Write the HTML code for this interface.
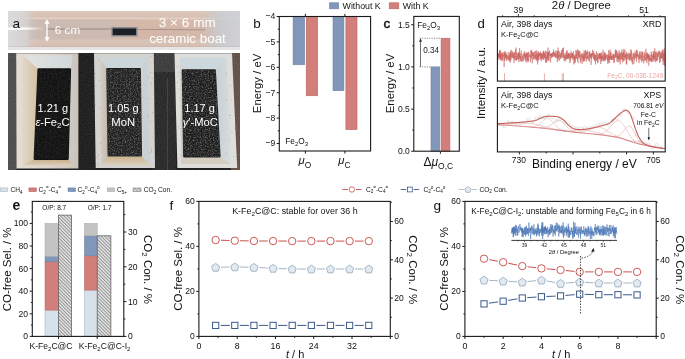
<!DOCTYPE html><html><head><meta charset="utf-8"><style>html,body{margin:0;padding:0;background:#fff;}svg{display:block;will-change:transform;}text{font-family:"Liberation Sans",sans-serif;}</style></head><body>
<svg width="685" height="359" viewBox="0 0 685 359">
<defs>
<filter id="grain" x="0" y="0" width="100%" height="100%"><feTurbulence type="fractalNoise" baseFrequency="0.9" numOctaves="2" seed="3" result="n"/><feColorMatrix type="matrix" values="0 0 0 0 1  0 0 0 0 1  0 0 0 0 1  0 0 0 0.35 -0.05"/><feComposite in2="SourceGraphic" operator="in"/></filter>
<filter id="grain2" x="0" y="0" width="100%" height="100%"><feTurbulence type="fractalNoise" baseFrequency="0.75" numOctaves="2" seed="5"/><feColorMatrix type="matrix" values="0 0 0 0 0.42  0 0 0 0 0.42  0 0 0 0 0.42  0 0 0 2.0 -0.85"/><feComposite in2="SourceGraphic" operator="in"/></filter>
<filter id="blur1"><feGaussianBlur stdDeviation="1.2"/></filter>
<filter id="blur05"><feGaussianBlur stdDeviation="0.5"/></filter>
<pattern id="hatch" patternUnits="userSpaceOnUse" width="2.4" height="2.4" patternTransform="rotate(-45)"><rect width="2.4" height="2.4" fill="#ececec"/><line x1="0.6" y1="0" x2="0.6" y2="2.4" stroke="#6a6a6a" stroke-width="0.75"/></pattern>
<linearGradient id="tubeg" x1="0" y1="0" x2="0" y2="1">
<stop offset="0" stop-color="#dcc6ba"/><stop offset="0.15" stop-color="#d8c0b2"/><stop offset="0.19" stop-color="#e2d0c6"/><stop offset="0.24" stop-color="#d4baab"/>
<stop offset="0.7" stop-color="#d1b6a8"/><stop offset="0.74" stop-color="#dac4b8"/><stop offset="0.9" stop-color="#d5bfb2"/><stop offset="1" stop-color="#d6c2b8"/></linearGradient>
<linearGradient id="tuber" x1="0" y1="0" x2="1" y2="0"><stop offset="0" stop-color="#c8ccd2" stop-opacity="0"/><stop offset="0.5" stop-color="#c9ced4" stop-opacity="0.85"/><stop offset="1" stop-color="#cfd3d8" stop-opacity="0.9"/></linearGradient>
<linearGradient id="tubel" x1="0" y1="0" x2="1" y2="0"><stop offset="0" stop-color="#dcdcde" stop-opacity="0.95"/><stop offset="0.62" stop-color="#d6d4d6" stop-opacity="0.85"/><stop offset="0.75" stop-color="#d6d4d6" stop-opacity="0.3"/><stop offset="1" stop-color="#d6d4d6" stop-opacity="0"/></linearGradient>
<linearGradient id="tubemid" x1="0" y1="0" x2="1" y2="0"><stop offset="0" stop-color="#c9bdb7" stop-opacity="0.0"/><stop offset="0.08" stop-color="#c9bcb5" stop-opacity="0.85"/><stop offset="0.44" stop-color="#ccbbb2" stop-opacity="0.8"/><stop offset="0.56" stop-color="#d6b6a6" stop-opacity="0.5"/><stop offset="0.85" stop-color="#d6b8a8" stop-opacity="0.3"/><stop offset="1" stop-color="#d6b8a8" stop-opacity="0"/></linearGradient>
<linearGradient id="glare" x1="0" y1="0" x2="1" y2="0"><stop offset="0" stop-color="#fff" stop-opacity="1"/><stop offset="0.45" stop-color="#fff" stop-opacity="0.9"/><stop offset="0.75" stop-color="#fff" stop-opacity="0.35"/><stop offset="1" stop-color="#fff" stop-opacity="0"/></linearGradient>
<linearGradient id="b1o" x1="0" y1="0" x2="1" y2="0"><stop offset="0" stop-color="#e3ddd4"/><stop offset="0.5" stop-color="#dcd4c8"/><stop offset="1" stop-color="#cdc3bb"/></linearGradient>
<linearGradient id="b1l" x1="0" y1="0" x2="1" y2="0"><stop offset="0" stop-color="#e2d9ca"/><stop offset="1" stop-color="#d4c1a3"/></linearGradient>
<linearGradient id="b1b" x1="0" y1="0" x2="0" y2="1"><stop offset="0" stop-color="#c9b08c"/><stop offset="1" stop-color="#ddd0bc"/></linearGradient>
<linearGradient id="b1f" x1="0" y1="0" x2="1" y2="0"><stop offset="0" stop-color="#e2e3e1"/><stop offset="1" stop-color="#d2d8da"/></linearGradient>
<linearGradient id="b2l" x1="0" y1="0" x2="1" y2="0"><stop offset="0" stop-color="#d2cec8"/><stop offset="1" stop-color="#c8bcaa"/></linearGradient>
<linearGradient id="b2b" x1="0" y1="0" x2="0" y2="1"><stop offset="0" stop-color="#ccb48e"/><stop offset="1" stop-color="#dcd0bc"/></linearGradient>
<linearGradient id="b3r" x1="0" y1="0" x2="1" y2="0"><stop offset="0" stop-color="#c6d0d5"/><stop offset="1" stop-color="#d8dcdd"/></linearGradient>
</defs>
<rect x="8" y="11" width="232" height="39" fill="url(#tubeg)" />
<rect x="8" y="19.5" width="232" height="20" fill="url(#tubemid)" />
<rect x="8" y="11" width="30" height="39" fill="url(#tubel)" />
<rect x="200" y="11" width="40" height="39" fill="url(#tuber)" />
<rect x="8" y="27.4" width="38" height="2.4" fill="url(#glare)" filter="url(#blur05)"/>
<line x1="45" y1="29" x2="111" y2="29" stroke="#6a6466" stroke-width="0.8" opacity="0.75"/>
<line x1="137.5" y1="29.4" x2="205" y2="29.8" stroke="#6a6466" stroke-width="0.8" opacity="0.55"/>
<line x1="8" y1="46.6" x2="240" y2="46.6" stroke="#b8aaa4" stroke-width="0.6" opacity="0.6"/>
<rect x="8" y="47" width="232" height="3" fill="#e6e3e5" />
<rect x="111.3" y="27" width="26.2" height="9.5" fill="#858b90" />
<rect x="112.7" y="28.5" width="23.4" height="6.6" fill="#1b1e22" />
<line x1="47" y1="22.5" x2="47" y2="38.5" stroke="#ffffff" stroke-width="1.4" />
<polygon points="47.00,19.20 44.40,23.80 49.60,23.80" fill="#fff" />
<polygon points="47.00,41.80 44.40,37.20 49.60,37.20" fill="#fff" />
<text x="54.8" y="33.6" font-size="11.7" text-anchor="start" fill="#ffffff" font-weight="normal"  >6 cm</text>
<text x="187.3" y="27" font-size="13.6" text-anchor="middle" fill="#ffffff" font-weight="normal"  >3 × 6 mm</text>
<text x="187.5" y="43" font-size="13.4" text-anchor="middle" fill="#ffffff" font-weight="normal"  >ceramic boat</text>
<text x="12.4" y="27.5" font-size="13.6" text-anchor="start" fill="#111" font-weight="normal"  >a</text>
<rect x="8" y="53" width="232" height="117" fill="#161616" />
<rect x="8" y="53" width="8.5" height="117" fill="#474747" />
<rect x="153" y="53" width="23" height="117" fill="#222222" />
<rect x="153" y="53" width="23" height="19" fill="#363636" />
<rect x="231" y="53" width="9" height="117" fill="#5c4b42" />
<rect x="8" y="53" width="232" height="117" fill="#000" filter="url(#grain)" opacity="0.45"/>
<line x1="167.5" y1="78" x2="167.5" y2="170" stroke="#4a4a4a" stroke-width="0.8" />
<polygon points="16.20,53.30 78.40,53.30 78.40,168.50 16.50,168.50" fill="url(#b1o)" />
<polygon points="22.40,55.30 37.40,68.30 33.60,160.00 22.00,165.50" fill="url(#b1l)" />
<polygon points="71.10,68.30 72.60,55.30 73.60,55.30 73.80,166.00 68.80,160.00" fill="#cbc9c5" />
<polygon points="33.60,160.00 68.80,160.00 73.80,165.60 22.00,165.60" fill="url(#b1b)" />
<polygon points="23.20,55.20 72.60,55.20 71.10,68.30 37.40,68.30" fill="url(#b1f)" />
<polygon points="94.00,53.30 153.80,53.30 155.00,168.00 95.70,168.00" fill="#d5d3cf" />
<polygon points="99.60,57.50 106.20,68.00 107.50,156.60 101.40,164.90" fill="url(#b2l)" />
<polygon points="140.90,68.00 148.10,57.50 149.80,164.90 142.00,156.60" fill="#c9d1d5" />
<polygon points="107.50,156.60 142.00,156.60 149.80,164.90 101.40,164.90" fill="url(#b2b)" />
<polygon points="99.60,57.50 148.10,57.50 140.90,68.00 106.20,68.00" fill="#ccd6da" />
<polygon points="174.50,53.30 232.00,53.30 237.20,168.00 177.40,168.00" fill="#dfdedb" />
<polygon points="180.10,57.50 181.70,69.20 183.10,157.50 181.00,163.90" fill="#cdccc8" />
<polygon points="215.90,69.20 226.80,57.50 231.00,163.90 220.60,157.50" fill="url(#b3r)" />
<polygon points="183.10,157.50 220.60,157.50 231.00,163.90 181.00,163.90" fill="#d5cdc0" />
<polygon points="180.10,57.50 226.80,57.50 215.90,69.20 181.70,69.20" fill="#cdd8de" />
<circle cx="98.4" cy="154.7" r="0.45" fill="#555" opacity="0.6"/>
<circle cx="99.4" cy="80.8" r="0.45" fill="#555" opacity="0.6"/>
<circle cx="96.1" cy="152.1" r="0.45" fill="#555" opacity="0.6"/>
<circle cx="94.0" cy="146.3" r="0.45" fill="#555" opacity="0.6"/>
<circle cx="99.6" cy="107.5" r="0.45" fill="#555" opacity="0.6"/>
<circle cx="96.1" cy="86.6" r="0.45" fill="#555" opacity="0.6"/>
<circle cx="95.8" cy="105.0" r="0.45" fill="#555" opacity="0.6"/>
<circle cx="97.5" cy="116.9" r="0.45" fill="#555" opacity="0.6"/>
<circle cx="101.0" cy="143.2" r="0.45" fill="#555" opacity="0.6"/>
<circle cx="98.4" cy="164.8" r="0.45" fill="#555" opacity="0.6"/>
<circle cx="95.5" cy="73.6" r="0.45" fill="#555" opacity="0.6"/>
<circle cx="98.3" cy="60.8" r="0.45" fill="#555" opacity="0.6"/>
<circle cx="94.2" cy="112.6" r="0.45" fill="#555" opacity="0.6"/>
<circle cx="97.3" cy="156.9" r="0.45" fill="#555" opacity="0.6"/>
<circle cx="152.4" cy="112.6" r="0.45" fill="#555" opacity="0.6"/>
<circle cx="151.5" cy="83.2" r="0.45" fill="#555" opacity="0.6"/>
<circle cx="148.1" cy="77.2" r="0.45" fill="#555" opacity="0.6"/>
<circle cx="152.8" cy="78.1" r="0.45" fill="#555" opacity="0.6"/>
<circle cx="150.6" cy="56.4" r="0.45" fill="#555" opacity="0.6"/>
<circle cx="153.8" cy="73.0" r="0.45" fill="#555" opacity="0.6"/>
<circle cx="149.9" cy="152.8" r="0.45" fill="#555" opacity="0.6"/>
<circle cx="151.6" cy="149.2" r="0.45" fill="#555" opacity="0.6"/>
<circle cx="152.5" cy="137.6" r="0.45" fill="#555" opacity="0.6"/>
<circle cx="148.6" cy="115.5" r="0.45" fill="#555" opacity="0.6"/>
<circle cx="151.6" cy="151.8" r="0.45" fill="#555" opacity="0.6"/>
<circle cx="150.5" cy="121.8" r="0.45" fill="#555" opacity="0.6"/>
<circle cx="148.4" cy="98.6" r="0.45" fill="#555" opacity="0.6"/>
<circle cx="150.3" cy="72.5" r="0.45" fill="#555" opacity="0.6"/>
<circle cx="179.8" cy="97.7" r="0.45" fill="#555" opacity="0.6"/>
<circle cx="180.9" cy="120.9" r="0.45" fill="#555" opacity="0.6"/>
<circle cx="178.4" cy="126.2" r="0.45" fill="#555" opacity="0.6"/>
<circle cx="178.9" cy="72.6" r="0.45" fill="#555" opacity="0.6"/>
<circle cx="177.4" cy="82.4" r="0.45" fill="#555" opacity="0.6"/>
<circle cx="177.1" cy="66.6" r="0.45" fill="#555" opacity="0.6"/>
<circle cx="180.8" cy="79.7" r="0.45" fill="#555" opacity="0.6"/>
<circle cx="178.9" cy="89.0" r="0.45" fill="#555" opacity="0.6"/>
<circle cx="180.2" cy="128.8" r="0.45" fill="#555" opacity="0.6"/>
<circle cx="175.4" cy="149.0" r="0.45" fill="#555" opacity="0.6"/>
<circle cx="180.6" cy="155.4" r="0.45" fill="#555" opacity="0.6"/>
<circle cx="178.2" cy="72.0" r="0.45" fill="#555" opacity="0.6"/>
<circle cx="175.8" cy="158.1" r="0.45" fill="#555" opacity="0.6"/>
<circle cx="178.1" cy="75.9" r="0.45" fill="#555" opacity="0.6"/>
<circle cx="234.8" cy="128.0" r="0.45" fill="#555" opacity="0.6"/>
<circle cx="231.7" cy="99.9" r="0.45" fill="#555" opacity="0.6"/>
<circle cx="230.1" cy="85.4" r="0.45" fill="#555" opacity="0.6"/>
<circle cx="226.4" cy="152.9" r="0.45" fill="#555" opacity="0.6"/>
<circle cx="230.7" cy="118.0" r="0.45" fill="#555" opacity="0.6"/>
<circle cx="229.2" cy="139.6" r="0.45" fill="#555" opacity="0.6"/>
<circle cx="226.3" cy="99.5" r="0.45" fill="#555" opacity="0.6"/>
<circle cx="226.3" cy="73.0" r="0.45" fill="#555" opacity="0.6"/>
<circle cx="235.7" cy="129.7" r="0.45" fill="#555" opacity="0.6"/>
<circle cx="230.3" cy="115.5" r="0.45" fill="#555" opacity="0.6"/>
<circle cx="234.7" cy="96.5" r="0.45" fill="#555" opacity="0.6"/>
<circle cx="231.9" cy="132.5" r="0.45" fill="#555" opacity="0.6"/>
<circle cx="229.6" cy="115.0" r="0.45" fill="#555" opacity="0.6"/>
<circle cx="233.7" cy="156.4" r="0.45" fill="#555" opacity="0.6"/>
<path d="M38.6,69.5 L69.9,69.5 L67.6,158.8 L34.8,158.8 Z" fill="#121212" stroke="#121212" stroke-width="2.4" stroke-linejoin="round"/>
<path d="M38.6,69.5 L69.9,69.5 L67.6,158.8 L34.8,158.8 Z" fill="#000" stroke="#000" stroke-width="2.4" stroke-linejoin="round" filter="url(#grain2)" opacity="0.22"/>
<path d="M107.4,69.2 L139.7,69.2 L140.8,155.4 L108.7,155.4 Z" fill="#202020" stroke="#202020" stroke-width="2.4" stroke-linejoin="round"/>
<path d="M107.4,69.2 L139.7,69.2 L140.8,155.4 L108.7,155.4 Z" fill="#000" stroke="#000" stroke-width="2.4" stroke-linejoin="round" filter="url(#grain2)" opacity="0.65"/>
<path d="M182.9,70.4 L214.7,70.4 L219.4,156.3 L184.3,156.3 Z" fill="#1d1d1d" stroke="#1d1d1d" stroke-width="2.4" stroke-linejoin="round"/>
<path d="M182.9,70.4 L214.7,70.4 L219.4,156.3 L184.3,156.3 Z" fill="#000" stroke="#000" stroke-width="2.4" stroke-linejoin="round" filter="url(#grain2)" opacity="0.65"/>
<rect x="8" y="50" width="232" height="3" fill="#ffffff" />
<text x="52.8" y="111.7" font-size="11" text-anchor="middle" fill="#ffffff" font-weight="normal"  >1.21 g</text>
<text x="52.5" y="125.7" font-size="11.2" text-anchor="middle" fill="#ffffff" font-weight="normal"  ><tspan font-style="italic">ε</tspan>-Fe<tspan font-size="8" dy="2.5">2</tspan><tspan dy="-2.5">C</tspan></text>
<text x="123.3" y="111.7" font-size="11" text-anchor="middle" fill="#ffffff" font-weight="normal"  >1.05 g</text>
<text x="123.3" y="125.6" font-size="11.3" text-anchor="middle" fill="#ffffff" font-weight="normal"  >MoN</text>
<text x="199.6" y="111.7" font-size="11" text-anchor="middle" fill="#ffffff" font-weight="normal"  >1.17 g</text>
<text x="200.3" y="125.7" font-size="11.2" text-anchor="middle" fill="#ffffff" font-weight="normal"  ><tspan font-style="italic">γ</tspan>′-MoC</text>
<rect x="329.5" y="2.8" width="9.2" height="6" fill="#8197b9" stroke="#6d82a3" stroke-width="0.6"/>
<text x="342.6" y="8.8" font-size="8.8" text-anchor="start" fill="#111" font-weight="normal"  >Without K</text>
<rect x="389.2" y="2.8" width="9.6" height="6" fill="#d27f7b" stroke="#b8625f" stroke-width="0.6"/>
<text x="402.8" y="8.8" font-size="8.8" text-anchor="start" fill="#111" font-weight="normal"  >With K</text>
<rect x="293.1" y="16.5" width="11.5" height="48.260000000000005" fill="#8197b9" stroke="#6d82a3" stroke-width="0.6"/>
<rect x="306.2" y="16.5" width="11.400000000000034" height="79.248" fill="#d27f7b" stroke="#b8625f" stroke-width="0.6"/>
<rect x="333" y="16.5" width="10.899999999999977" height="74.16799999999999" fill="#8197b9" stroke="#6d82a3" stroke-width="0.6"/>
<rect x="345.9" y="16.5" width="11.100000000000023" height="113.02999999999997" fill="#d27f7b" stroke="#b8625f" stroke-width="0.6"/>
<rect x="279.3" y="16.5" width="91.30000000000001" height="134.5" fill="none" stroke="#1a1a1a" stroke-width="1.1"/>
<line x1="276.7" y1="16.5" x2="279.3" y2="16.5" stroke="#1a1a1a" stroke-width="1" />
<text transform="translate(275.20,19.45) scale(0.91,1)" x="0" y="0" font-size="9.4" text-anchor="end" fill="#111" font-weight="normal"  >−4</text>
<line x1="276.7" y1="41.9" x2="279.3" y2="41.9" stroke="#1a1a1a" stroke-width="1" />
<text transform="translate(275.20,44.85) scale(0.91,1)" x="0" y="0" font-size="9.4" text-anchor="end" fill="#111" font-weight="normal"  >−5</text>
<line x1="276.7" y1="67.3" x2="279.3" y2="67.3" stroke="#1a1a1a" stroke-width="1" />
<text transform="translate(275.20,70.25) scale(0.91,1)" x="0" y="0" font-size="9.4" text-anchor="end" fill="#111" font-weight="normal"  >−6</text>
<line x1="276.7" y1="92.69999999999999" x2="279.3" y2="92.69999999999999" stroke="#1a1a1a" stroke-width="1" />
<text transform="translate(275.20,95.65) scale(0.91,1)" x="0" y="0" font-size="9.4" text-anchor="end" fill="#111" font-weight="normal"  >−7</text>
<line x1="276.7" y1="118.1" x2="279.3" y2="118.1" stroke="#1a1a1a" stroke-width="1" />
<text transform="translate(275.20,121.05) scale(0.91,1)" x="0" y="0" font-size="9.4" text-anchor="end" fill="#111" font-weight="normal"  >−8</text>
<line x1="276.7" y1="143.5" x2="279.3" y2="143.5" stroke="#1a1a1a" stroke-width="1" />
<text transform="translate(275.20,146.45) scale(0.91,1)" x="0" y="0" font-size="9.4" text-anchor="end" fill="#111" font-weight="normal"  >−9</text>
<line x1="277.8" y1="29.2" x2="279.3" y2="29.2" stroke="#1a1a1a" stroke-width="1" />
<line x1="277.8" y1="54.599999999999994" x2="279.3" y2="54.599999999999994" stroke="#1a1a1a" stroke-width="1" />
<line x1="277.8" y1="80.0" x2="279.3" y2="80.0" stroke="#1a1a1a" stroke-width="1" />
<line x1="277.8" y1="105.39999999999999" x2="279.3" y2="105.39999999999999" stroke="#1a1a1a" stroke-width="1" />
<line x1="277.8" y1="130.8" x2="279.3" y2="130.8" stroke="#1a1a1a" stroke-width="1" />
<line x1="305.4" y1="151" x2="305.4" y2="153.6" stroke="#1a1a1a" stroke-width="1" />
<line x1="305.4" y1="16.5" x2="305.4" y2="13.9" stroke="#1a1a1a" stroke-width="1" />
<line x1="344.9" y1="151" x2="344.9" y2="153.6" stroke="#1a1a1a" stroke-width="1" />
<line x1="344.9" y1="16.5" x2="344.9" y2="13.9" stroke="#1a1a1a" stroke-width="1" />
<text transform="translate(260.9,83.4) rotate(-90)" font-size="11.4" text-anchor="middle" fill="#111">Energy / eV</text>
<text x="253.2" y="27.8" font-size="13.4" text-anchor="start" fill="#111" font-weight="normal"  >b</text>
<text x="285.3" y="144.3" font-size="8.3" text-anchor="start" fill="#111" font-weight="normal"  >Fe<tspan font-size="6" dy="2">2</tspan><tspan dy="-2">O</tspan><tspan font-size="6" dy="2">3</tspan></text>
<text x="298.6" y="164.3" font-size="11.3" text-anchor="start" fill="#111" font-weight="normal"  ><tspan font-style="italic">μ</tspan><tspan font-size="8.3" dy="3.6">O</tspan></text>
<text x="338.2" y="164.3" font-size="11.3" text-anchor="start" fill="#111" font-weight="normal"  ><tspan font-style="italic">μ</tspan><tspan font-size="8.3" dy="3.6">C</tspan></text>
<rect x="431" y="66.89999999999999" width="8.8" height="84.3" fill="#8197b9" stroke="#6d82a3" stroke-width="0.6"/>
<rect x="441.1" y="38.237999999999985" width="8.8" height="112.962" fill="#d27f7b" stroke="#b8625f" stroke-width="0.6"/>
<rect x="413.8" y="16.4" width="45.5" height="134.79999999999998" fill="none" stroke="#1a1a1a" stroke-width="1.1"/>
<line x1="411.2" y1="151.2" x2="413.8" y2="151.2" stroke="#1a1a1a" stroke-width="1" />
<text transform="translate(409.80,154.15) scale(0.91,1)" x="0" y="0" font-size="9.4" text-anchor="end" fill="#111" font-weight="normal"  >0.0</text>
<line x1="411.2" y1="109.04999999999998" x2="413.8" y2="109.04999999999998" stroke="#1a1a1a" stroke-width="1" />
<text transform="translate(409.80,112.00) scale(0.91,1)" x="0" y="0" font-size="9.4" text-anchor="end" fill="#111" font-weight="normal"  >0.5</text>
<line x1="411.2" y1="66.89999999999999" x2="413.8" y2="66.89999999999999" stroke="#1a1a1a" stroke-width="1" />
<text transform="translate(409.80,69.85) scale(0.91,1)" x="0" y="0" font-size="9.4" text-anchor="end" fill="#111" font-weight="normal"  >1.0</text>
<line x1="411.2" y1="24.75" x2="413.8" y2="24.75" stroke="#1a1a1a" stroke-width="1" />
<text transform="translate(409.80,27.70) scale(0.91,1)" x="0" y="0" font-size="9.4" text-anchor="end" fill="#111" font-weight="normal"  >1.5</text>
<line x1="412.3" y1="130.125" x2="413.8" y2="130.125" stroke="#1a1a1a" stroke-width="1" />
<line x1="412.3" y1="87.975" x2="413.8" y2="87.975" stroke="#1a1a1a" stroke-width="1" />
<line x1="412.3" y1="45.82499999999999" x2="413.8" y2="45.82499999999999" stroke="#1a1a1a" stroke-width="1" />
<line x1="440.4" y1="151.2" x2="440.4" y2="153.79999999999998" stroke="#1a1a1a" stroke-width="1" />
<line x1="419.5" y1="66.89999999999999" x2="431" y2="66.89999999999999" stroke="#555" stroke-width="0.7" stroke-dasharray="1.2,1.2"/>
<line x1="419.5" y1="38.237999999999985" x2="441" y2="38.237999999999985" stroke="#555" stroke-width="0.7" stroke-dasharray="1.2,1.2"/>
<line x1="420.5" y1="66.89999999999999" x2="420.5" y2="41.237999999999985" stroke="#333" stroke-width="0.7" />
<polygon points="420.50,38.24 419.00,41.84 422.00,41.84" fill="#333" />
<text x="423.2" y="52.8" font-size="8.2" text-anchor="start" fill="#222" font-weight="normal"  >0.34</text>
<text x="417.3" y="28.3" font-size="8.3" text-anchor="start" fill="#111" font-weight="normal"  >Fe<tspan font-size="6" dy="2">2</tspan><tspan dy="-2">O</tspan><tspan font-size="6" dy="2">3</tspan></text>
<text transform="translate(394.4,83.5) rotate(-90)" font-size="11.4" text-anchor="middle" fill="#111">Energy / eV</text>
<text x="383.6" y="27.7" font-size="13.4" text-anchor="start" fill="#111" font-weight="normal"  stroke="#111" stroke-width="0.45">c</text>
<text x="423.5" y="165.7" font-size="12" text-anchor="start" fill="#111" font-weight="normal"  >Δ<tspan font-style="italic">μ</tspan><tspan font-size="8.5" dy="3">O,C</tspan></text>
<polyline points="498.00,58.26 498.13,53.29 498.26,56.35 498.39,56.71 498.52,53.23 498.65,57.43 498.78,53.85 498.91,59.71 499.04,57.22 499.17,56.89 499.30,54.71 499.43,56.22 499.56,50.21 499.69,52.98 499.82,57.76 499.95,49.79 500.08,59.31 500.21,51.01 500.34,59.02 500.47,53.89 500.60,59.09 500.73,57.02 500.86,51.68 500.99,60.60 501.12,61.21 501.25,56.39 501.38,55.72 501.51,56.09 501.64,53.48 501.77,60.12 501.90,54.86 502.03,56.44 502.16,54.06 502.29,54.60 502.42,52.51 502.55,60.62 502.68,56.11 502.81,59.69 502.94,56.64 503.07,54.38 503.20,55.55 503.33,54.81 503.46,56.63 503.59,55.40 503.72,55.64 503.85,52.19 503.98,54.02 504.11,67.00 504.24,54.45 504.37,53.23 504.50,57.68 504.63,61.10 504.76,51.95 504.89,55.93 505.02,54.58 505.15,50.96 505.28,58.95 505.41,56.52 505.54,56.83 505.67,54.19 505.80,58.06 505.93,54.87 506.06,56.14 506.19,53.05 506.32,52.71 506.45,60.87 506.58,54.98 506.71,57.53 506.84,56.49 506.97,55.19 507.10,54.97 507.23,58.62 507.36,55.63 507.49,56.12 507.62,56.67 507.75,60.36 507.88,58.78 508.01,57.82 508.14,54.80 508.27,52.18 508.40,59.64 508.53,59.69 508.66,56.15 508.79,58.33 508.92,59.10 509.05,59.26 509.18,59.55 509.31,55.14 509.44,61.45 509.57,52.61 509.70,59.36 509.83,58.18 509.96,59.39 510.09,62.61 510.22,61.35 510.35,52.93 510.48,51.19 510.61,61.26 510.74,53.35 510.87,56.56 511.00,59.29 511.13,51.34 511.26,49.85 511.39,57.43 511.52,56.74 511.65,55.81 511.78,56.72 511.91,53.84 512.04,51.75 512.17,56.06 512.30,53.49 512.43,51.34 512.56,58.21 512.69,56.40 512.82,57.90 512.95,53.43 513.08,54.49 513.21,53.40 513.34,53.76 513.47,57.22 513.60,54.09 513.73,57.73 513.86,57.68 513.99,63.07 514.12,52.13 514.25,59.43 514.38,56.30 514.51,56.54 514.64,51.95 514.77,55.11 514.90,58.96 515.03,56.32 515.16,56.84 515.29,55.65 515.42,60.28 515.55,56.51 515.68,49.54 515.81,54.36 515.94,50.28 516.07,47.50 516.20,54.88 516.33,60.84 516.46,56.72 516.59,52.82 516.72,53.56 516.85,60.18 516.98,57.07 517.11,56.72 517.24,56.39 517.37,56.68 517.50,59.13 517.63,58.32 517.76,57.24 517.89,53.21 518.02,58.18 518.15,54.35 518.28,60.04 518.41,52.47 518.54,56.10 518.67,56.51 518.80,52.29 518.93,62.04 519.06,62.10 519.19,55.04 519.32,58.99 519.45,57.72 519.58,48.14 519.71,57.31 519.84,56.30 519.97,57.43 520.10,53.05 520.23,55.63 520.36,55.91 520.49,60.28 520.62,57.54 520.75,56.45 520.88,61.36 521.01,54.68 521.14,55.21 521.27,50.63 521.40,61.46 521.53,59.52 521.66,59.37 521.79,58.57 521.92,56.77 522.05,57.10 522.18,55.60 522.31,55.75 522.44,56.57 522.57,61.23 522.70,58.16 522.83,56.19 522.96,54.52 523.09,54.33 523.22,61.48 523.35,57.97 523.48,56.56 523.61,55.23 523.74,52.78 523.87,56.11 524.00,59.11 524.13,55.05 524.26,55.57 524.39,55.59 524.52,56.64 524.65,51.18 524.78,55.52 524.91,53.53 525.04,59.09 525.17,53.79 525.30,58.09 525.43,61.12 525.56,55.23 525.69,54.30 525.82,56.83 525.95,56.21 526.08,53.03 526.21,57.68 526.34,62.64 526.47,55.36 526.60,55.53 526.73,52.83 526.86,57.19 526.99,52.18 527.12,52.62 527.25,60.25 527.38,53.25 527.51,59.61 527.64,61.02 527.77,56.97 527.90,57.90 528.03,62.38 528.16,55.50 528.29,54.22 528.42,51.79 528.55,56.25 528.68,60.85 528.81,59.18 528.94,53.09 529.07,53.37 529.20,54.49 529.33,57.04 529.46,55.45 529.59,56.79 529.72,57.05 529.85,55.14 529.98,55.97 530.11,56.76 530.24,55.83 530.37,57.71 530.50,62.09 530.63,58.00 530.76,56.28 530.89,50.71 531.02,57.35 531.15,49.88 531.28,51.60 531.41,58.85 531.54,58.38 531.67,55.64 531.80,50.65 531.93,54.94 532.06,53.96 532.19,58.17 532.32,63.37 532.45,56.84 532.58,53.66 532.71,52.41 532.84,55.98 532.97,55.60 533.10,52.48 533.23,56.55 533.36,52.50 533.49,59.75 533.62,59.59 533.75,59.67 533.88,54.69 534.01,57.86 534.14,55.79 534.27,54.98 534.40,55.15 534.53,52.08 534.66,51.62 534.79,58.79 534.92,55.65 535.05,56.96 535.18,59.48 535.31,50.73 535.44,53.78 535.57,56.85 535.70,57.55 535.83,55.10 535.96,59.61 536.09,56.99 536.22,52.44 536.35,53.36 536.48,58.92 536.61,57.83 536.74,50.28 536.87,60.67 537.00,58.28 537.13,60.67 537.26,55.15 537.39,55.44 537.52,52.79 537.65,64.52 537.78,55.84 537.91,61.49 538.04,54.35 538.17,56.95 538.30,51.08 538.43,55.21 538.56,59.59 538.69,52.44 538.82,59.88 538.95,57.54 539.08,53.12 539.21,54.86 539.34,55.00 539.47,56.32 539.60,54.76 539.73,53.84 539.86,55.51 539.99,53.21 540.12,52.37 540.25,56.35 540.38,59.33 540.51,51.61 540.64,56.52 540.77,54.44 540.90,53.39 541.03,59.25 541.16,54.87 541.29,61.32 541.42,54.04 541.55,57.77 541.68,53.06 541.81,54.13 541.94,58.42 542.07,56.05 542.20,58.48 542.33,56.40 542.46,53.07 542.59,56.22 542.72,56.72 542.85,59.62 542.98,53.65 543.11,56.43 543.24,51.05 543.37,58.64 543.50,53.10 543.63,50.78 543.76,56.37 543.89,60.10 544.02,51.68 544.15,53.08 544.28,54.18 544.41,52.95 544.54,57.78 544.67,53.98 544.80,54.25 544.93,58.43 545.06,54.14 545.19,57.95 545.32,53.45 545.45,52.68 545.58,50.68 545.71,62.51 545.84,55.53 545.97,57.34 546.10,62.61 546.23,57.06 546.36,56.71 546.49,62.65 546.62,53.22 546.75,51.56 546.88,53.30 547.01,52.27 547.14,58.93 547.27,59.16 547.40,53.45 547.53,52.08 547.66,55.39 547.79,60.97 547.92,47.50 548.05,58.20 548.18,53.07 548.31,59.84 548.44,53.05 548.57,55.58 548.70,51.67 548.83,53.36 548.96,60.92 549.09,59.10 549.22,55.19 549.35,53.68 549.48,50.40 549.61,55.20 549.74,56.35 549.87,56.18 550.00,56.14 550.13,52.84 550.26,56.21 550.39,56.29 550.52,60.54 550.65,62.38 550.78,55.96 550.91,53.93 551.04,56.17 551.17,54.42 551.30,53.98 551.43,56.16 551.56,53.00 551.69,58.27 551.82,55.99 551.95,57.11 552.08,55.72 552.21,53.96 552.34,53.25 552.47,55.51 552.60,54.50 552.73,56.99 552.86,56.22 552.99,51.86 553.12,56.43 553.25,51.90 553.38,54.21 553.51,55.23 553.64,49.52 553.77,56.44 553.90,56.62 554.03,55.61 554.16,54.75 554.29,54.89 554.42,52.95 554.55,55.20 554.68,54.28 554.81,56.33 554.94,52.16 555.07,56.76 555.20,56.44 555.33,55.52 555.46,54.55 555.59,57.71 555.72,50.60 555.85,57.38 555.98,56.67 556.11,56.78 556.24,57.09 556.37,53.75 556.50,55.00 556.63,57.85 556.76,57.17 556.89,56.44 557.02,50.92 557.15,57.47 557.28,62.11 557.41,58.95 557.54,56.45 557.67,50.70 557.80,58.69 557.93,55.18 558.06,47.53 558.19,56.83 558.32,50.83 558.45,51.44 558.58,53.55 558.71,59.64 558.84,54.36 558.97,56.40 559.10,61.12 559.23,60.61 559.36,55.17 559.49,54.71 559.62,51.44 559.75,53.24 559.88,56.81 560.01,56.70 560.14,55.78 560.27,58.60 560.40,52.93 560.53,55.21 560.66,57.72 560.79,57.25 560.92,58.79 561.05,56.63 561.18,54.36 561.31,56.50 561.44,52.13 561.57,50.09 561.70,57.18 561.83,55.15 561.96,56.30 562.09,49.88 562.22,54.14 562.35,53.39 562.48,52.54 562.61,48.09 562.74,54.23 562.87,58.17 563.00,56.52 563.13,53.38 563.26,55.25 563.39,57.72 563.52,47.50 563.65,54.91 563.78,57.05 563.91,57.50 564.04,60.76 564.17,58.95 564.30,56.33 564.43,56.30 564.56,57.86 564.69,53.62 564.82,55.22 564.95,58.26 565.08,61.63 565.21,54.87 565.34,55.23 565.47,56.03 565.60,59.70 565.73,55.32 565.86,60.13 565.99,52.34 566.12,54.85 566.25,54.82 566.38,57.99 566.51,58.83 566.64,50.67 566.77,52.58 566.90,56.60 567.03,53.43 567.16,50.68 567.29,58.89 567.42,57.16 567.55,57.17 567.68,54.09 567.81,58.92 567.94,54.87 568.07,59.16 568.20,52.75 568.33,52.95 568.46,56.36 568.59,53.47 568.72,57.89 568.85,56.58 568.98,52.81 569.11,56.01 569.24,54.67 569.37,58.74 569.50,53.80 569.63,54.44 569.76,59.74 569.89,63.04 570.02,62.29 570.15,56.11 570.28,56.62 570.41,60.85 570.54,55.56 570.67,52.85 570.80,56.36 570.93,57.45 571.06,53.36 571.19,50.76 571.32,51.45 571.45,58.19 571.58,53.65 571.71,55.64 571.84,56.78 571.97,58.10 572.10,55.06 572.23,57.74 572.36,53.31 572.49,55.01 572.62,52.91 572.75,59.82 572.88,56.12 573.01,53.86 573.14,55.11 573.27,55.54 573.40,58.50 573.53,51.16 573.66,52.96 573.79,55.08 573.92,64.41 574.05,59.37 574.18,55.97 574.31,58.61 574.44,62.93 574.57,55.60 574.70,55.19 574.83,60.25 574.96,57.96 575.09,58.53 575.22,54.77 575.35,62.56 575.48,61.88 575.61,58.23 575.74,58.61 575.87,49.94 576.00,58.48 576.13,55.82 576.26,57.84 576.39,58.64 576.52,55.37 576.65,51.06 576.78,57.65 576.91,54.11 577.04,55.43 577.17,54.56 577.30,55.40 577.43,49.11 577.56,60.40 577.69,57.32 577.82,60.07 577.95,62.85 578.08,56.59 578.21,50.76 578.34,53.67 578.47,52.67 578.60,54.93 578.73,56.79 578.86,50.13 578.99,57.64 579.12,51.71 579.25,57.50 579.38,58.23 579.51,55.55 579.64,56.32 579.77,54.83 579.90,54.60 580.03,51.18 580.16,56.47 580.29,62.47 580.42,62.91 580.55,60.80 580.68,58.83 580.81,54.41 580.94,61.19 581.07,56.40 581.20,56.36 581.33,55.65 581.46,56.87 581.59,55.19 581.72,56.31 581.85,53.11 581.98,55.39 582.11,63.88 582.24,56.36 582.37,55.82 582.50,58.29 582.63,58.85 582.76,53.03 582.89,55.93 583.02,59.53 583.15,57.45 583.28,56.98 583.41,61.57 583.54,54.42 583.67,56.86 583.80,54.93 583.93,61.36 584.06,50.35 584.19,54.45 584.32,54.90 584.45,58.72 584.58,58.54 584.71,61.06 584.84,51.56 584.97,59.00 585.10,55.66 585.23,54.47 585.36,58.32 585.49,53.65 585.62,49.95 585.75,55.41 585.88,51.81 586.01,54.52 586.14,57.79 586.27,57.60 586.40,61.68 586.53,55.96 586.66,51.69 586.79,54.18 586.92,53.66 587.05,52.70 587.18,57.99 587.31,54.53 587.44,50.27 587.57,58.83 587.70,56.24 587.83,57.74 587.96,56.94 588.09,58.62 588.22,56.72 588.35,60.56 588.48,57.96 588.61,57.85 588.74,57.91 588.87,51.94 589.00,56.07 589.13,55.77 589.26,57.26 589.39,52.25 589.52,61.83 589.65,56.93 589.78,52.72 589.91,51.13 590.04,55.70 590.17,56.31 590.30,54.30 590.43,56.89 590.56,54.55 590.69,58.37 590.82,54.28 590.95,56.48 591.08,59.73 591.21,64.83 591.34,53.38 591.47,55.11 591.60,53.91 591.73,59.11 591.86,52.93 591.99,55.05 592.12,56.51 592.25,53.47 592.38,53.54 592.51,55.08 592.64,49.88 592.77,51.97 592.90,55.28 593.03,57.07 593.16,56.01 593.29,50.92 593.42,55.12 593.55,59.15 593.68,58.38 593.81,56.35 593.94,53.76 594.07,58.62 594.20,54.75 594.33,52.86 594.46,54.03 594.59,61.23 594.72,57.30 594.85,60.31 594.98,55.07 595.11,59.60 595.24,54.68 595.37,56.10 595.50,64.56 595.63,59.05 595.76,55.00 595.89,56.33 596.02,57.64 596.15,60.47 596.28,55.03 596.41,51.03 596.54,55.71 596.67,56.65 596.80,56.95 596.93,60.81 597.06,57.61 597.19,59.20 597.32,53.08 597.45,59.38 597.58,63.31 597.71,59.07 597.84,57.41 597.97,57.09 598.10,62.32 598.23,53.63 598.36,56.24 598.49,58.07 598.62,58.98 598.75,55.20 598.88,57.58 599.01,55.71 599.14,56.99 599.27,56.18 599.40,52.95 599.53,56.53 599.66,59.41 599.79,53.51 599.92,55.83 600.05,58.73 600.18,53.18 600.31,57.18 600.44,53.21 600.57,60.23 600.70,64.00 600.83,63.07 600.96,55.90 601.09,58.97 601.22,56.99 601.35,56.93 601.48,61.55 601.61,52.38 601.74,59.98 601.87,56.44 602.00,61.11 602.13,57.20 602.26,54.45 602.39,57.49 602.52,58.96 602.65,56.71 602.78,58.16 602.91,54.93 603.04,49.77 603.17,59.48 603.30,58.84 603.43,57.07 603.56,56.82 603.69,61.42 603.82,55.14 603.95,54.34 604.08,56.00 604.21,60.41 604.34,52.16 604.47,60.41 604.60,54.55 604.73,53.08 604.86,60.63 604.99,56.29 605.12,52.44 605.25,55.45 605.38,59.58 605.51,60.41 605.64,55.23 605.77,57.90 605.90,58.89 606.03,54.54 606.16,57.74 606.29,56.50 606.42,54.88 606.55,55.03 606.68,56.81 606.81,56.70 606.94,54.79 607.07,55.24 607.20,60.16 607.33,57.28 607.46,59.43 607.59,60.45 607.72,58.48 607.85,63.87 607.98,53.96 608.11,59.19 608.24,55.58 608.37,62.54 608.50,62.04 608.63,50.35 608.76,53.50 608.89,58.73 609.02,59.13 609.15,58.96 609.28,56.37 609.41,58.06 609.54,62.88 609.67,56.35 609.80,59.89 609.93,49.37 610.06,58.63 610.19,53.29 610.32,59.67 610.45,55.87 610.58,53.76 610.71,57.80 610.84,53.68 610.97,53.68 611.10,51.58 611.23,56.51 611.36,58.19 611.49,59.87 611.62,56.15 611.75,59.95 611.88,56.66 612.01,56.30 612.14,58.44 612.27,59.99 612.40,55.51 612.53,55.82 612.66,56.09 612.79,56.86 612.92,53.72 613.05,59.89 613.18,55.32 613.31,58.08 613.44,53.96 613.57,57.75 613.70,57.85 613.83,55.25 613.96,63.07 614.09,57.79 614.22,62.29 614.35,59.67 614.48,54.48 614.61,55.38 614.74,58.00 614.87,56.80 615.00,56.76 615.13,55.68 615.26,50.81 615.39,55.88 615.52,49.50 615.65,57.79 615.78,54.28 615.91,54.31 616.04,55.90 616.17,57.47 616.30,52.02 616.43,51.00 616.56,53.19 616.69,50.07 616.82,53.51 616.95,61.69 617.08,53.22 617.21,58.68 617.34,52.21 617.47,57.56 617.60,55.58 617.73,56.41 617.86,58.42 617.99,62.22 618.12,57.22 618.25,57.00 618.38,53.49 618.51,58.47 618.64,55.81 618.77,59.26 618.90,56.46 619.03,62.17 619.16,50.25 619.29,55.65 619.42,59.42 619.55,55.48 619.68,54.07 619.81,55.75 619.94,52.18 620.07,56.98 620.20,64.41 620.33,60.26 620.46,53.05 620.59,53.81 620.72,55.30 620.85,59.81 620.98,53.97 621.11,54.39 621.24,59.43 621.37,59.37 621.50,55.40 621.63,53.02 621.76,51.64 621.89,54.36 622.02,49.46 622.15,59.00 622.28,54.58 622.41,58.14 622.54,62.58 622.67,60.35 622.80,52.92 622.93,59.38 623.06,60.31 623.19,54.21 623.32,53.55 623.45,56.25 623.58,51.48 623.71,61.31 623.84,48.90 623.97,53.06 624.10,55.74 624.23,55.87 624.36,57.13 624.49,57.47 624.62,55.92 624.75,60.24 624.88,49.75 625.01,56.60 625.14,54.31 625.27,57.02 625.40,57.31 625.53,53.68 625.66,54.55 625.79,59.14 625.92,57.72 626.05,54.42 626.18,63.13 626.31,63.99 626.44,51.92 626.57,57.57 626.70,64.63 626.83,59.11 626.96,57.31 627.09,55.93 627.22,54.87 627.35,55.92 627.48,54.84 627.61,58.98 627.74,55.33 627.87,55.19 628.00,52.75 628.13,56.44 628.26,53.74 628.39,56.02 628.52,59.93 628.65,57.77 628.78,58.22 628.91,57.74 629.04,56.79 629.17,56.19 629.30,55.62 629.43,59.03 629.56,53.13 629.69,60.89 629.82,56.71 629.95,54.20 630.08,55.03 630.21,54.43 630.34,57.11 630.47,54.30 630.60,60.25 630.73,54.10 630.86,49.33 630.99,54.26 631.12,50.17 631.25,56.47 631.38,59.99 631.51,58.67 631.64,52.32 631.77,54.16 631.90,62.29 632.03,57.62 632.16,56.61 632.29,59.98 632.42,64.45 632.55,60.75 632.68,57.05 632.81,57.74 632.94,58.57 633.07,54.64 633.20,53.21 633.33,56.77 633.46,53.57 633.59,56.40 633.72,56.91 633.85,64.09 633.98,53.88 634.11,56.21 634.24,56.07 634.37,58.00 634.50,59.95 634.63,55.03 634.76,53.97 634.89,51.35 635.02,53.64 635.15,58.32 635.28,56.75 635.41,53.35 635.54,55.41 635.67,56.70 635.80,58.21 635.93,54.70 636.06,55.80 636.19,50.78 636.32,52.92 636.45,61.78 636.58,49.60 636.71,55.52 636.84,57.30 636.97,55.40 637.10,54.01 637.23,56.40 637.36,56.58 637.49,56.34 637.62,50.59 637.75,56.13 637.88,53.86 638.01,54.85 638.14,57.33 638.27,58.65 638.40,59.47 638.53,55.01 638.66,59.56 638.79,60.36 638.92,60.24 639.05,63.07 639.18,56.13 639.31,56.04 639.44,59.24 639.57,52.23 639.70,57.27 639.83,54.90 639.96,55.42 640.09,51.03 640.22,53.75 640.35,56.53 640.48,59.44 640.61,59.77 640.74,56.34 640.87,55.99 641.00,53.94 641.13,57.89 641.26,55.81 641.39,58.54 641.52,62.21 641.65,56.50 641.78,51.81 641.91,53.85 642.04,51.93 642.17,52.77 642.30,60.78 642.43,57.33 642.56,51.74 642.69,58.69 642.82,60.63 642.95,55.45 643.08,54.44 643.21,55.52 643.34,57.51 643.47,58.65 643.60,60.38 643.73,63.46 643.86,60.39 643.99,60.96 644.12,58.72 644.25,51.70 644.38,56.18 644.51,57.60 644.64,55.37 644.77,59.52 644.90,55.45 645.03,53.64 645.16,61.22 645.29,58.73 645.42,57.30 645.55,59.57 645.68,60.00 645.81,57.69 645.94,48.74 646.07,54.44 646.20,55.14 646.33,53.45 646.46,57.24 646.59,60.42 646.72,55.05 646.85,52.97 646.98,63.09 647.11,55.16 647.24,52.65 647.37,57.36 647.50,57.96 647.63,54.34 647.76,59.13 647.89,55.04 648.02,53.65 648.15,57.17 648.28,59.07 648.41,54.57 648.54,57.66 648.67,56.30 648.80,65.64 648.93,54.33 649.06,61.03 649.19,56.43 649.32,56.19 649.45,58.91 649.58,59.46 649.71,60.65 649.84,57.65 649.97,54.68 650.10,54.88 650.23,58.23 650.36,58.46 650.49,61.07 650.62,57.94 650.75,59.99 650.88,61.45 651.01,57.13 651.14,51.85 651.27,52.83 651.40,52.00 651.53,61.69 651.66,53.89 651.79,60.54 651.92,58.47 652.05,62.09 652.18,59.81 652.31,56.27 652.44,55.96 652.57,56.87 652.70,57.16 652.83,54.90 652.96,56.50 653.09,61.75 653.22,51.15 653.35,57.43 653.48,53.70 653.61,57.20 653.74,59.29 653.87,56.42 654.00,59.07 654.13,51.51 654.26,60.14 654.39,54.67 654.52,58.59 654.65,57.18 654.78,48.33 654.91,54.18 655.04,57.31 655.17,61.57 655.30,57.52 655.43,57.42 655.56,52.08 655.69,61.18 655.82,62.38 655.95,56.69 656.08,55.90 656.21,51.42 656.34,59.43 656.47,60.57 656.60,58.89 656.73,60.64 656.86,58.33 656.99,53.45 657.12,60.88 657.25,52.65 657.38,55.93 657.51,57.49 657.64,59.43 657.77,57.93 657.90,57.84 658.03,54.16 658.16,52.47 658.29,56.80 658.42,54.33 658.55,52.42 658.68,52.55 658.81,55.03 658.94,50.67 659.07,52.29 659.20,51.37 659.33,57.18 659.46,57.91 659.59,63.02 659.72,51.81 659.85,54.43 659.98,59.52 660.11,55.91 660.24,55.55 660.37,62.07 660.50,55.52 660.63,52.90 660.76,52.39 660.89,57.67 661.02,57.58 661.15,52.21 661.28,53.45 661.41,58.31 661.54,58.45 661.67,54.54 661.80,58.59 661.93,58.43 662.06,50.89 662.19,55.60 662.32,57.93 662.45,54.77 662.58,49.76 662.71,55.69 662.84,59.01 662.97,61.66 663.10,49.59 663.23,64.96 663.36,52.99 663.49,59.66 663.62,60.55 663.75,59.75 663.88,57.08 664.01,52.88 664.14,58.60 664.27,54.31 664.40,48.53 664.53,65.65 664.66,58.87 664.79,62.42" fill="none" stroke="#c9615d" stroke-width="0.5" />
<line x1="504.5" y1="73.3" x2="504.5" y2="81.1" stroke="#e2a5a3" stroke-width="0.9" />
<line x1="544.4" y1="73.3" x2="544.4" y2="81.1" stroke="#e2a5a3" stroke-width="0.9" />
<line x1="562.2" y1="73.3" x2="562.2" y2="81.1" stroke="#e2a5a3" stroke-width="0.9" />
<line x1="563.4" y1="73.3" x2="563.4" y2="81.1" stroke="#e2a5a3" stroke-width="0.9" />
<text x="663.4" y="77.6" font-size="6.6" text-anchor="end" fill="#e6a8a6" font-weight="normal"  >Fe<tspan font-size="4.8" dy="1.5">2</tspan><tspan dy="-1.5">C, 00-036-1249</tspan></text>
<rect x="497.4" y="16.7" width="167.80000000000007" height="64.39999999999999" fill="none" stroke="#1a1a1a" stroke-width="1.1"/>
<line x1="502.6" y1="16.7" x2="502.6" y2="15.2" stroke="#1a1a1a" stroke-width="0.8" />
<line x1="534.3" y1="16.7" x2="534.3" y2="15.2" stroke="#1a1a1a" stroke-width="0.8" />
<line x1="565.4" y1="16.7" x2="565.4" y2="15.2" stroke="#1a1a1a" stroke-width="0.8" />
<line x1="597.3" y1="16.7" x2="597.3" y2="15.2" stroke="#1a1a1a" stroke-width="0.8" />
<line x1="628.4" y1="16.7" x2="628.4" y2="15.2" stroke="#1a1a1a" stroke-width="0.8" />
<line x1="660" y1="16.7" x2="660" y2="15.2" stroke="#1a1a1a" stroke-width="0.8" />
<line x1="518.4" y1="16.7" x2="518.4" y2="14.1" stroke="#1a1a1a" stroke-width="0.9" />
<line x1="644.3" y1="16.7" x2="644.3" y2="14.1" stroke="#1a1a1a" stroke-width="0.9" />
<text x="518.4" y="12.6" font-size="8.7" text-anchor="middle" fill="#111" font-weight="normal"  >39</text>
<text x="644.1" y="12.7" font-size="8.7" text-anchor="middle" fill="#111" font-weight="normal"  >51</text>
<text x="581.3" y="8.8" font-size="11.3" text-anchor="middle" fill="#111" font-weight="normal"  >2<tspan font-style="italic">θ</tspan> / Degree</text>
<text x="501.1" y="26.7" font-size="8.9" text-anchor="start" fill="#111" font-weight="normal"  >Air, 398 days</text>
<text x="501.1" y="37.3" font-size="7.5" text-anchor="start" fill="#111" font-weight="normal"  >K-Fe<tspan font-size="5.2" dy="1.6">2</tspan><tspan dy="-1.6">C@C</tspan></text>
<text x="661.4" y="26.8" font-size="8.8" text-anchor="end" fill="#111" font-weight="normal"  >XRD</text>
<polyline points="529.70,126.88 530.20,126.89 530.70,126.90 531.20,126.90 531.70,126.89 532.20,126.87 532.70,126.84 533.20,126.79 533.70,126.73 534.20,126.65 534.70,126.54 535.20,126.41 535.70,126.26 536.20,126.08 536.70,125.86 537.20,125.62 537.70,125.35 538.20,125.05 538.70,124.71 539.20,124.35 539.70,123.95 540.20,123.54 540.70,123.10 541.20,122.65 541.70,122.19 542.20,121.72 542.70,121.26 543.20,120.81 543.70,120.38 544.20,119.98 544.70,119.62 545.20,119.29 545.70,119.02 546.20,118.80 546.70,118.65 547.20,118.56 547.70,118.55 548.20,118.60 548.70,118.73 549.20,118.92 549.70,119.18 550.20,119.51 550.70,119.89 551.20,120.33 551.70,120.81 552.20,121.32 552.70,121.87 553.20,122.43 553.70,123.01 554.20,123.59 554.70,124.17 555.20,124.74 555.70,125.30 556.20,125.84 556.70,126.35 557.20,126.83 557.70,127.29 558.20,127.71 558.70,128.11 559.20,128.47 559.70,128.80 560.20,129.10 560.70,129.38 561.20,129.63 561.70,129.85 562.20,130.05 562.70,130.23 563.20,130.40 563.70,130.54 564.20,130.68 564.70,130.80 565.20,130.91 565.70,131.02 566.20,131.11" fill="none" stroke="#e2a4a2" stroke-width="0.55" />
<polyline points="539.20,127.73 539.70,127.76 540.20,127.77 540.70,127.78 541.20,127.79 541.70,127.79 542.20,127.78 542.70,127.75 543.20,127.72 543.70,127.67 544.20,127.61 544.70,127.53 545.20,127.43 545.70,127.31 546.20,127.17 546.70,127.01 547.20,126.83 547.70,126.62 548.20,126.38 548.70,126.12 549.20,125.84 549.70,125.53 550.20,125.21 550.70,124.86 551.20,124.50 551.70,124.13 552.20,123.75 552.70,123.37 553.20,122.99 553.70,122.62 554.20,122.26 554.70,121.93 555.20,121.62 555.70,121.34 556.20,121.09 556.70,120.90 557.20,120.74 557.70,120.64 558.20,120.59 558.70,120.60 559.20,120.66 559.70,120.78 560.20,120.96 560.70,121.19 561.20,121.47 561.70,121.80 562.20,122.17 562.70,122.58 563.20,123.02 563.70,123.48 564.20,123.97 564.70,124.48 565.20,124.99 565.70,125.50 566.20,126.02 566.70,126.52 567.20,127.01 567.70,127.49 568.20,127.95 568.70,128.39 569.20,128.80 569.70,129.19 570.20,129.56 570.70,129.89 571.20,130.21 571.70,130.49 572.20,130.76 572.70,130.99 573.20,131.21 573.70,131.41 574.20,131.59 574.70,131.75 575.20,131.89 575.70,132.02 576.20,132.14 576.70,132.25 577.20,132.34 577.70,132.43 578.20,132.52 578.70,132.59" fill="none" stroke="#e2a4a2" stroke-width="0.55" />
<polyline points="497.70,124.48 498.20,124.47 498.70,124.47 499.20,124.46 499.70,124.45 500.20,124.44 500.70,124.43 501.20,124.42 501.70,124.40 502.20,124.39 502.70,124.37 503.20,124.35 503.70,124.33 504.20,124.31 504.70,124.29 505.20,124.26 505.70,124.24 506.20,124.21 506.70,124.18 507.20,124.15 507.70,124.12 508.20,124.08 508.70,124.05 509.20,124.01 509.70,123.97 510.20,123.94 510.70,123.90 511.20,123.86 511.70,123.82 512.20,123.77 512.70,123.73 513.20,123.69 513.70,123.65 514.20,123.61 514.70,123.57 515.20,123.53 515.70,123.49 516.20,123.45 516.70,123.41 517.20,123.38 517.70,123.34 518.20,123.31 518.70,123.28 519.20,123.25 519.70,123.23 520.20,123.20 520.70,123.18 521.20,123.17 521.70,123.15 522.20,123.14 522.70,123.14 523.20,123.14 523.70,123.14 524.20,123.14 524.70,123.15 525.20,123.17 525.70,123.19 526.20,123.21 526.70,123.24 527.20,123.27 527.70,123.31 528.20,123.35 528.70,123.39 529.20,123.45 529.70,123.50 530.20,123.56 530.70,123.63 531.20,123.70 531.70,123.77 532.20,123.85 532.70,123.93 533.20,124.01 533.70,124.10 534.20,124.20 534.70,124.29 535.20,124.39 535.70,124.50 536.20,124.60 536.70,124.71 537.20,124.82 537.70,124.93 538.20,125.05 538.70,125.17 539.20,125.28 539.70,125.40 540.20,125.52 540.70,125.65 541.20,125.77 541.70,125.90 542.20,126.02 542.70,126.15 543.20,126.28 543.70,126.41 544.20,126.54 544.70,126.67 545.20,126.79 545.70,126.92 546.20,127.05 546.70,127.18 547.20,127.31 547.70,127.43 548.20,127.56 548.70,127.68 549.20,127.81 549.70,127.93 550.20,128.05 550.70,128.17 551.20,128.29 551.70,128.41 552.20,128.52 552.70,128.63 553.20,128.75 553.70,128.86 554.20,128.96 554.70,129.07 555.20,129.18 555.70,129.28 556.20,129.38 556.70,129.48 557.20,129.58 557.70,129.68 558.20,129.78 558.70,129.87 559.20,129.96 559.70,130.06 560.20,130.15 560.70,130.24 561.20,130.32 561.70,130.41 562.20,130.49 562.70,130.58 563.20,130.66 563.70,130.74 564.20,130.82 564.70,130.90 565.20,130.98 565.70,131.05 566.20,131.13" fill="none" stroke="#e2a4a2" stroke-width="0.55" />
<polyline points="556.70,129.83 557.20,129.88 557.70,129.94 558.20,130.00 558.70,130.05 559.20,130.10 559.70,130.15 560.20,130.20 560.70,130.25 561.20,130.30 561.70,130.34 562.20,130.38 562.70,130.42 563.20,130.46 563.70,130.49 564.20,130.52 564.70,130.55 565.20,130.58 565.70,130.60 566.20,130.62 566.70,130.64 567.20,130.65 567.70,130.66 568.20,130.67 568.70,130.67 569.20,130.67 569.70,130.67 570.20,130.66 570.70,130.65 571.20,130.64 571.70,130.63 572.20,130.61 572.70,130.59 573.20,130.57 573.70,130.55 574.20,130.52 574.70,130.50 575.20,130.47 575.70,130.44 576.20,130.41 576.70,130.38 577.20,130.36 577.70,130.33 578.20,130.30 578.70,130.28 579.20,130.26 579.70,130.24 580.20,130.22 580.70,130.21 581.20,130.20 581.70,130.20 582.20,130.20 582.70,130.20 583.20,130.21 583.70,130.23 584.20,130.25 584.70,130.27 585.20,130.31 585.70,130.35 586.20,130.39 586.70,130.44 587.20,130.50 587.70,130.56 588.20,130.63 588.70,130.71 589.20,130.79 589.70,130.88 590.20,130.97 590.70,131.07 591.20,131.17 591.70,131.28 592.20,131.39 592.70,131.51 593.20,131.63 593.70,131.75 594.20,131.88 594.70,132.01 595.20,132.14 595.70,132.27 596.20,132.41 596.70,132.54 597.20,132.68 597.70,132.82 598.20,132.96 598.70,133.10 599.20,133.24 599.70,133.38 600.20,133.52 600.70,133.66 601.20,133.79 601.70,133.93 602.20,134.06 602.70,134.19 603.20,134.32 603.70,134.45 604.20,134.57 604.70,134.69 605.20,134.81 605.70,134.93 606.20,135.05 606.70,135.16 607.20,135.27 607.70,135.38 608.20,135.49 608.70,135.60 609.20,135.70 609.70,135.81 610.20,135.91 610.70,136.02 611.20,136.12 611.70,136.22 612.20,136.32 612.70,136.42 613.20,136.53 613.70,136.63 614.20,136.73 614.70,136.83 615.20,136.93" fill="none" stroke="#e2a4a2" stroke-width="0.55" />
<polyline points="572.20,131.89 572.70,131.93 573.20,131.97 573.70,132.01 574.20,132.04 574.70,132.07 575.20,132.09 575.70,132.11 576.20,132.13 576.70,132.13 577.20,132.14 577.70,132.13 578.20,132.12 578.70,132.10 579.20,132.07 579.70,132.03 580.20,131.99 580.70,131.93 581.20,131.87 581.70,131.79 582.20,131.71 582.70,131.62 583.20,131.51 583.70,131.39 584.20,131.27 584.70,131.13 585.20,130.98 585.70,130.83 586.20,130.66 586.70,130.49 587.20,130.31 587.70,130.12 588.20,129.92 588.70,129.72 589.20,129.52 589.70,129.31 590.20,129.11 590.70,128.90 591.20,128.70 591.70,128.50 592.20,128.31 592.70,128.13 593.20,127.95 593.70,127.79 594.20,127.64 594.70,127.51 595.20,127.39 595.70,127.29 596.20,127.21 596.70,127.15 597.20,127.12 597.70,127.10 598.20,127.11 598.70,127.15 599.20,127.20 599.70,127.29 600.20,127.39 600.70,127.52 601.20,127.67 601.70,127.84 602.20,128.04 602.70,128.25 603.20,128.48 603.70,128.72 604.20,128.99 604.70,129.26 605.20,129.55 605.70,129.85 606.20,130.15 606.70,130.47 607.20,130.79 607.70,131.11 608.20,131.43 608.70,131.76 609.20,132.08 609.70,132.40 610.20,132.72 610.70,133.04 611.20,133.34 611.70,133.65 612.20,133.94 612.70,134.23 613.20,134.51 613.70,134.78 614.20,135.04 614.70,135.29 615.20,135.54 615.70,135.78 616.20,136.00 616.70,136.22 617.20,136.44 617.70,136.64 618.20,136.84 618.70,137.03 619.20,137.22 619.70,137.40 620.20,137.58 620.70,137.76 621.20,137.94 621.70,138.13 622.20,138.32 622.70,138.52 623.20,138.71 623.70,138.91 624.20,139.11 624.70,139.31 625.20,139.51 625.70,139.71" fill="none" stroke="#e2a4a2" stroke-width="0.55" />
<polyline points="594.70,134.10 595.20,134.13 595.70,134.16 596.20,134.18 596.70,134.19 597.20,134.20 597.70,134.20 598.20,134.19 598.70,134.17 599.20,134.14 599.70,134.10 600.20,134.04 600.70,133.96 601.20,133.87 601.70,133.75 602.20,133.61 602.70,133.44 603.20,133.25 603.70,133.03 604.20,132.78 604.70,132.50 605.20,132.18 605.70,131.83 606.20,131.46 606.70,131.04 607.20,130.60 607.70,130.12 608.20,129.62 608.70,129.09 609.20,128.54 609.70,127.96 610.20,127.37 610.70,126.77 611.20,126.16 611.70,125.56 612.20,124.96 612.70,124.37 613.20,123.80 613.70,123.26 614.20,122.76 614.70,122.29 615.20,121.87 615.70,121.51 616.20,121.20 616.70,120.96 617.20,120.79 617.70,120.69 618.20,120.67 618.70,120.72 619.20,120.85 619.70,121.06 620.20,121.34 620.70,121.70 621.20,122.15 621.70,122.67 622.20,123.25 622.70,123.90 623.20,124.60 623.70,125.35 624.20,126.14 624.70,126.96 625.20,127.80 625.70,128.67 626.20,129.53 626.70,130.40 627.20,131.27 627.70,132.12 628.20,132.95 628.70,133.76 629.20,134.54 629.70,135.29 630.20,136.01 630.70,136.69 631.20,137.34 631.70,137.96 632.20,138.54 632.70,139.09 633.20,139.61 633.70,140.09 634.20,140.54 634.70,140.96 635.20,141.35 635.70,141.71 636.20,142.05 636.70,142.36 637.20,142.65 637.70,142.91 638.20,143.16 638.70,143.38 639.20,143.59 639.70,143.78 640.20,143.96 640.70,144.12 641.20,144.27 641.70,144.41 642.20,144.55 642.70,144.67 643.20,144.79" fill="none" stroke="#e2a4a2" stroke-width="0.55" />
<polyline points="612.20,136.40 612.70,136.46 613.20,136.50 613.70,136.54 614.20,136.56 614.70,136.57 615.20,136.56 615.70,136.53 616.20,136.47 616.70,136.39 617.20,136.27 617.70,136.12 618.20,135.93 618.70,135.69 619.20,135.40 619.70,135.06 620.20,134.67 620.70,134.24 621.20,133.76 621.70,133.23 622.20,132.67 622.70,132.08 623.20,131.45 623.70,130.81 624.20,130.16 624.70,129.51 625.20,128.88 625.70,128.28 626.20,127.73 626.70,127.24 627.20,126.82 627.70,126.49 628.20,126.25 628.70,126.12 629.20,126.11 629.70,126.21 630.20,126.42 630.70,126.76 631.20,127.22 631.70,127.79 632.20,128.46 632.70,129.22 633.20,130.05 633.70,130.94 634.20,131.87 634.70,132.84 635.20,133.81 635.70,134.78 636.20,135.74 636.70,136.67 637.20,137.57 637.70,138.41 638.20,139.21 638.70,139.95 639.20,140.64 639.70,141.26 640.20,141.82 640.70,142.33 641.20,142.78 641.70,143.18 642.20,143.54 642.70,143.86 643.20,144.14 643.70,144.38 644.20,144.60 644.70,144.80 645.20,144.97 645.70,145.12 646.20,145.27 646.70,145.39 647.20,145.51" fill="none" stroke="#e2a4a2" stroke-width="0.55" />
<polyline points="624.70,139.34 625.20,139.50 625.70,139.65 626.20,139.80 626.70,139.95 627.20,140.09 627.70,140.22 628.20,140.34 628.70,140.45 629.20,140.55 629.70,140.63 630.20,140.70 630.70,140.77 631.20,140.82 631.70,140.87 632.20,140.91 632.70,140.95 633.20,140.98 633.70,141.01 634.20,141.04 634.70,141.07 635.20,141.09 635.70,141.12 636.20,141.16 636.70,141.20 637.20,141.24 637.70,141.30 638.20,141.37 638.70,141.44 639.20,141.53 639.70,141.63 640.20,141.75 640.70,141.87 641.20,142.02 641.70,142.17 642.20,142.34 642.70,142.52 643.20,142.71 643.70,142.91 644.20,143.11 644.70,143.32 645.20,143.53 645.70,143.75 646.20,143.97 646.70,144.18 647.20,144.39 647.70,144.60 648.20,144.80 648.70,145.00 649.20,145.19 649.70,145.37 650.20,145.55 650.70,145.71 651.20,145.87 651.70,146.03 652.20,146.17 652.70,146.31 653.20,146.44 653.70,146.56 654.20,146.68 654.70,146.79 655.20,146.90 655.70,147.00" fill="none" stroke="#e2a4a2" stroke-width="0.55" />
<polyline points="497.70,124.81 498.20,124.84 498.70,124.86 499.20,124.88 499.70,124.91 500.20,124.93 500.70,124.95 501.20,124.98 501.70,125.00 502.20,125.03 502.70,125.06 503.20,125.08 503.70,125.11 504.20,125.14 504.70,125.16 505.20,125.19 505.70,125.22 506.20,125.25 506.70,125.28 507.20,125.31 507.70,125.34 508.20,125.37 508.70,125.40 509.20,125.43 509.70,125.46 510.20,125.50 510.70,125.53 511.20,125.56 511.70,125.59 512.20,125.63 512.70,125.66 513.20,125.69 513.70,125.73 514.20,125.76 514.70,125.80 515.20,125.83 515.70,125.87 516.20,125.90 516.70,125.94 517.20,125.98 517.70,126.01 518.20,126.05 518.70,126.09 519.20,126.13 519.70,126.16 520.20,126.20 520.70,126.24 521.20,126.28 521.70,126.32 522.20,126.36 522.70,126.40 523.20,126.44 523.70,126.48 524.20,126.52 524.70,126.56 525.20,126.60 525.70,126.64 526.20,126.68 526.70,126.72 527.20,126.76 527.70,126.81 528.20,126.85 528.70,126.89 529.20,126.93 529.70,126.98 530.20,127.02 530.70,127.06 531.20,127.11 531.70,127.15 532.20,127.19 532.70,127.24 533.20,127.28 533.70,127.33 534.20,127.37 534.70,127.42 535.20,127.46 535.70,127.51 536.20,127.55 536.70,127.60 537.20,127.64 537.70,127.69 538.20,127.73 538.70,127.78 539.20,127.83 539.70,127.87 540.20,127.92 540.70,127.97 541.20,128.01 541.70,128.06 542.20,128.12 542.70,128.17 543.20,128.22 543.70,128.27 544.20,128.33 544.70,128.38 545.20,128.44 545.70,128.50 546.20,128.56 546.70,128.61 547.20,128.67 547.70,128.73 548.20,128.80 548.70,128.86 549.20,128.92 549.70,128.98 550.20,129.05 550.70,129.11 551.20,129.18 551.70,129.24 552.20,129.31 552.70,129.37 553.20,129.44 553.70,129.51 554.20,129.57 554.70,129.64 555.20,129.71 555.70,129.78 556.20,129.84 556.70,129.91 557.20,129.98 557.70,130.05 558.20,130.12 558.70,130.19 559.20,130.26 559.70,130.33 560.20,130.40 560.70,130.46 561.20,130.53 561.70,130.60 562.20,130.67 562.70,130.74 563.20,130.81 563.70,130.88 564.20,130.94 564.70,131.01 565.20,131.08 565.70,131.15 566.20,131.21 566.70,131.28 567.20,131.35 567.70,131.41 568.20,131.48 568.70,131.54 569.20,131.61 569.70,131.67 570.20,131.73 570.70,131.79 571.20,131.86 571.70,131.92 572.20,131.98 572.70,132.04 573.20,132.10 573.70,132.15 574.20,132.21 574.70,132.27 575.20,132.32 575.70,132.38 576.20,132.43 576.70,132.48 577.20,132.54 577.70,132.59 578.20,132.64 578.70,132.69 579.20,132.74 579.70,132.79 580.20,132.83 580.70,132.88 581.20,132.93 581.70,132.98 582.20,133.02 582.70,133.07 583.20,133.12 583.70,133.16 584.20,133.21 584.70,133.25 585.20,133.30 585.70,133.34 586.20,133.39 586.70,133.44 587.20,133.48 587.70,133.53 588.20,133.57 588.70,133.62 589.20,133.66 589.70,133.71 590.20,133.76 590.70,133.80 591.20,133.85 591.70,133.90 592.20,133.95 592.70,134.00 593.20,134.05 593.70,134.10 594.20,134.15 594.70,134.20 595.20,134.25 595.70,134.31 596.20,134.36 596.70,134.41 597.20,134.47 597.70,134.53 598.20,134.58 598.70,134.64 599.20,134.70 599.70,134.76 600.20,134.82 600.70,134.89 601.20,134.95 601.70,135.01 602.20,135.08 602.70,135.14 603.20,135.20 603.70,135.27 604.20,135.33 604.70,135.40 605.20,135.47 605.70,135.53 606.20,135.60 606.70,135.67 607.20,135.74 607.70,135.81 608.20,135.88 608.70,135.96 609.20,136.03 609.70,136.10 610.20,136.18 610.70,136.26 611.20,136.34 611.70,136.42 612.20,136.50 612.70,136.58 613.20,136.67 613.70,136.75 614.20,136.84 614.70,136.93 615.20,137.02 615.70,137.12 616.20,137.21 616.70,137.31 617.20,137.41 617.70,137.51 618.20,137.61 618.70,137.72 619.20,137.82 619.70,137.93 620.20,138.05 620.70,138.17 621.20,138.30 621.70,138.44 622.20,138.59 622.70,138.75 623.20,138.91 623.70,139.08 624.20,139.26 624.70,139.44 625.20,139.62 625.70,139.80 626.20,139.98 626.70,140.17 627.20,140.35 627.70,140.53 628.20,140.70 628.70,140.88 629.20,141.04 629.70,141.21 630.20,141.36 630.70,141.52 631.20,141.67 631.70,141.83 632.20,141.99 632.70,142.14 633.20,142.30 633.70,142.45 634.20,142.61 634.70,142.76 635.20,142.91 635.70,143.06 636.20,143.20 636.70,143.35 637.20,143.49 637.70,143.62 638.20,143.76 638.70,143.89 639.20,144.01 639.70,144.13 640.20,144.25 640.70,144.36 641.20,144.47 641.70,144.57 642.20,144.68 642.70,144.78 643.20,144.88 643.70,144.97 644.20,145.07 644.70,145.16 645.20,145.25 645.70,145.34 646.20,145.43 646.70,145.52 647.20,145.61 647.70,145.70 648.20,145.78 648.70,145.87 649.20,145.96 649.70,146.05 650.20,146.14 650.70,146.22 651.20,146.31 651.70,146.40 652.20,146.49 652.70,146.57 653.20,146.66 653.70,146.75 654.20,146.83 654.70,146.92 655.20,147.00 655.70,147.09 656.20,147.17 656.70,147.25 657.20,147.34 657.70,147.42 658.20,147.50 658.70,147.58 659.20,147.67 659.70,147.75 660.20,147.83 660.70,147.91 661.20,147.99 661.70,148.06 662.20,148.14 662.70,148.22 663.20,148.30 663.70,148.37 664.20,148.45 664.70,148.53" fill="none" stroke="#cc6561" stroke-width="1.0" />
<circle cx="500.4" cy="124.2" r="1.5" fill="none" stroke="#c2c2c2" stroke-width="0.5"/>
<circle cx="504.4" cy="126.2" r="1.5" fill="none" stroke="#c2c2c2" stroke-width="0.5"/>
<circle cx="508.4" cy="122.4" r="1.5" fill="none" stroke="#c2c2c2" stroke-width="0.5"/>
<circle cx="512.4" cy="122.7" r="1.5" fill="none" stroke="#c2c2c2" stroke-width="0.5"/>
<circle cx="516.4" cy="123.7" r="1.5" fill="none" stroke="#c2c2c2" stroke-width="0.5"/>
<circle cx="520.4" cy="123.5" r="1.5" fill="none" stroke="#c2c2c2" stroke-width="0.5"/>
<circle cx="524.4" cy="122.8" r="1.5" fill="none" stroke="#c2c2c2" stroke-width="0.5"/>
<circle cx="528.4" cy="119.5" r="1.5" fill="none" stroke="#c2c2c2" stroke-width="0.5"/>
<circle cx="532.4" cy="121.7" r="1.5" fill="none" stroke="#c2c2c2" stroke-width="0.5"/>
<circle cx="536.4" cy="118.6" r="1.5" fill="none" stroke="#c2c2c2" stroke-width="0.5"/>
<circle cx="540.4" cy="117.2" r="1.5" fill="none" stroke="#c2c2c2" stroke-width="0.5"/>
<circle cx="544.4" cy="117.5" r="1.5" fill="none" stroke="#c2c2c2" stroke-width="0.5"/>
<circle cx="548.4" cy="115.9" r="1.5" fill="none" stroke="#c2c2c2" stroke-width="0.5"/>
<circle cx="552.4" cy="117.3" r="1.5" fill="none" stroke="#c2c2c2" stroke-width="0.5"/>
<circle cx="556.4" cy="120.7" r="1.5" fill="none" stroke="#c2c2c2" stroke-width="0.5"/>
<circle cx="560.4" cy="118.9" r="1.5" fill="none" stroke="#c2c2c2" stroke-width="0.5"/>
<circle cx="564.4" cy="121.7" r="1.5" fill="none" stroke="#c2c2c2" stroke-width="0.5"/>
<circle cx="568.4" cy="123.9" r="1.5" fill="none" stroke="#c2c2c2" stroke-width="0.5"/>
<circle cx="572.4" cy="127.2" r="1.5" fill="none" stroke="#c2c2c2" stroke-width="0.5"/>
<circle cx="576.4" cy="128.0" r="1.5" fill="none" stroke="#c2c2c2" stroke-width="0.5"/>
<circle cx="580.4" cy="128.9" r="1.5" fill="none" stroke="#c2c2c2" stroke-width="0.5"/>
<circle cx="584.4" cy="127.9" r="1.5" fill="none" stroke="#c2c2c2" stroke-width="0.5"/>
<circle cx="588.4" cy="128.0" r="1.5" fill="none" stroke="#c2c2c2" stroke-width="0.5"/>
<circle cx="592.4" cy="127.8" r="1.5" fill="none" stroke="#c2c2c2" stroke-width="0.5"/>
<circle cx="596.4" cy="125.8" r="1.5" fill="none" stroke="#c2c2c2" stroke-width="0.5"/>
<circle cx="600.4" cy="124.1" r="1.5" fill="none" stroke="#c2c2c2" stroke-width="0.5"/>
<circle cx="604.4" cy="123.2" r="1.5" fill="none" stroke="#c2c2c2" stroke-width="0.5"/>
<circle cx="608.4" cy="124.3" r="1.5" fill="none" stroke="#c2c2c2" stroke-width="0.5"/>
<circle cx="612.4" cy="120.9" r="1.5" fill="none" stroke="#c2c2c2" stroke-width="0.5"/>
<circle cx="616.4" cy="118.3" r="1.5" fill="none" stroke="#c2c2c2" stroke-width="0.5"/>
<circle cx="620.4" cy="114.6" r="1.5" fill="none" stroke="#c2c2c2" stroke-width="0.5"/>
<circle cx="624.4" cy="110.2" r="1.5" fill="none" stroke="#c2c2c2" stroke-width="0.5"/>
<circle cx="628.4" cy="112.4" r="1.5" fill="none" stroke="#c2c2c2" stroke-width="0.5"/>
<circle cx="632.4" cy="117.9" r="1.5" fill="none" stroke="#c2c2c2" stroke-width="0.5"/>
<circle cx="636.4" cy="134.3" r="1.5" fill="none" stroke="#c2c2c2" stroke-width="0.5"/>
<circle cx="640.4" cy="141.1" r="1.5" fill="none" stroke="#c2c2c2" stroke-width="0.5"/>
<circle cx="644.4" cy="143.5" r="1.5" fill="none" stroke="#c2c2c2" stroke-width="0.5"/>
<circle cx="648.4" cy="144.2" r="1.5" fill="none" stroke="#c2c2c2" stroke-width="0.5"/>
<circle cx="652.4" cy="147.3" r="1.5" fill="none" stroke="#c2c2c2" stroke-width="0.5"/>
<circle cx="656.4" cy="145.1" r="1.5" fill="none" stroke="#c2c2c2" stroke-width="0.5"/>
<circle cx="660.4" cy="147.1" r="1.5" fill="none" stroke="#c2c2c2" stroke-width="0.5"/>
<polyline points="497.70,123.69 498.20,123.66 498.70,123.64 499.20,123.61 499.70,123.59 500.20,123.56 500.70,123.54 501.20,123.51 501.70,123.48 502.20,123.46 502.70,123.43 503.20,123.40 503.70,123.37 504.20,123.35 504.70,123.32 505.20,123.29 505.70,123.26 506.20,123.23 506.70,123.20 507.20,123.17 507.70,123.14 508.20,123.11 508.70,123.08 509.20,123.05 509.70,123.02 510.20,122.99 510.70,122.96 511.20,122.92 511.70,122.89 512.20,122.86 512.70,122.83 513.20,122.79 513.70,122.76 514.20,122.73 514.70,122.69 515.20,122.66 515.70,122.62 516.20,122.59 516.70,122.55 517.20,122.51 517.70,122.48 518.20,122.44 518.70,122.40 519.20,122.36 519.70,122.32 520.20,122.28 520.70,122.25 521.20,122.21 521.70,122.17 522.20,122.13 522.70,122.09 523.20,122.05 523.70,122.01 524.20,121.97 524.70,121.93 525.20,121.88 525.70,121.84 526.20,121.79 526.70,121.75 527.20,121.70 527.70,121.65 528.20,121.60 528.70,121.55 529.20,121.49 529.70,121.44 530.20,121.38 530.70,121.32 531.20,121.25 531.70,121.19 532.20,121.12 532.70,121.04 533.20,120.96 533.70,120.87 534.20,120.77 534.70,120.67 535.20,120.55 535.70,120.39 536.20,120.20 536.70,119.98 537.20,119.74 537.70,119.48 538.20,119.23 538.70,118.98 539.20,118.74 539.70,118.52 540.20,118.32 540.70,118.13 541.20,117.94 541.70,117.74 542.20,117.55 542.70,117.36 543.20,117.18 543.70,117.02 544.20,116.88 544.70,116.76 545.20,116.66 545.70,116.59 546.20,116.53 546.70,116.47 547.20,116.42 547.70,116.37 548.20,116.33 548.70,116.29 549.20,116.26 549.70,116.23 550.20,116.21 550.70,116.20 551.20,116.20 551.70,116.21 552.20,116.22 552.70,116.24 553.20,116.27 553.70,116.30 554.20,116.34 554.70,116.38 555.20,116.43 555.70,116.49 556.20,116.54 556.70,116.60 557.20,116.68 557.70,116.80 558.20,116.95 558.70,117.13 559.20,117.34 559.70,117.57 560.20,117.82 560.70,118.08 561.20,118.36 561.70,118.65 562.20,118.94 562.70,119.26 563.20,119.65 563.70,120.09 564.20,120.58 564.70,121.11 565.20,121.66 565.70,122.23 566.20,122.80 566.70,123.37 567.20,123.92 567.70,124.44 568.20,124.93 568.70,125.36 569.20,125.75 569.70,126.13 570.20,126.51 570.70,126.89 571.20,127.25 571.70,127.60 572.20,127.93 572.70,128.23 573.20,128.49 573.70,128.72 574.20,128.90 574.70,129.02 575.20,129.13 575.70,129.23 576.20,129.32 576.70,129.40 577.20,129.48 577.70,129.53 578.20,129.57 578.70,129.60 579.20,129.60 579.70,129.59 580.20,129.58 580.70,129.56 581.20,129.54 581.70,129.51 582.20,129.48 582.70,129.44 583.20,129.41 583.70,129.37 584.20,129.33 584.70,129.29 585.20,129.25 585.70,129.20 586.20,129.14 586.70,129.08 587.20,129.01 587.70,128.93 588.20,128.86 588.70,128.77 589.20,128.68 589.70,128.59 590.20,128.50 590.70,128.40 591.20,128.29 591.70,128.19 592.20,128.08 592.70,127.97 593.20,127.86 593.70,127.75 594.20,127.64 594.70,127.53 595.20,127.41 595.70,127.30 596.20,127.18 596.70,127.05 597.20,126.92 597.70,126.77 598.20,126.63 598.70,126.48 599.20,126.33 599.70,126.19 600.20,126.04 600.70,125.91 601.20,125.78 601.70,125.66 602.20,125.54 602.70,125.42 603.20,125.30 603.70,125.18 604.20,125.06 604.70,124.93 605.20,124.80 605.70,124.66 606.20,124.51 606.70,124.35 607.20,124.19 607.70,124.01 608.20,123.81 608.70,123.60 609.20,123.35 609.70,123.05 610.20,122.71 610.70,122.32 611.20,121.90 611.70,121.46 612.20,120.99 612.70,120.50 613.20,120.00 613.70,119.50 614.20,119.00 614.70,118.51 615.20,118.03 615.70,117.58 616.20,117.13 616.70,116.68 617.20,116.20 617.70,115.72 618.20,115.24 618.70,114.76 619.20,114.29 619.70,113.83 620.20,113.40 620.70,113.00 621.20,112.63 621.70,112.30 622.20,111.99 622.70,111.66 623.20,111.34 623.70,111.03 624.20,110.75 624.70,110.52 625.20,110.34 625.70,110.23 626.20,110.20 626.70,110.31 627.20,110.54 627.70,110.89 628.20,111.33 628.70,111.84 629.20,112.40 629.70,113.00 630.20,113.80 630.70,114.91 631.20,116.24 631.70,117.69 632.20,119.17 632.70,120.58 633.20,122.04 633.70,123.58 634.20,125.16 634.70,126.71 635.20,128.18 635.70,129.53 636.20,130.84 636.70,132.13 637.20,133.38 637.70,134.57 638.20,135.67 638.70,136.68 639.20,137.57 639.70,138.40 640.20,139.21 640.70,139.98 641.20,140.70 641.70,141.37 642.20,141.97 642.70,142.51 643.20,142.97 643.70,143.34 644.20,143.68 644.70,143.99 645.20,144.28 645.70,144.55 646.20,144.80 646.70,145.04 647.20,145.25 647.70,145.45 648.20,145.63 648.70,145.81 649.20,145.97 649.70,146.12 650.20,146.26 650.70,146.40 651.20,146.53 651.70,146.65 652.20,146.76 652.70,146.87 653.20,146.97 653.70,147.07 654.20,147.16 654.70,147.25 655.20,147.33 655.70,147.42 656.20,147.50 656.70,147.58 657.20,147.66 657.70,147.74 658.20,147.81 658.70,147.89 659.20,147.96 659.70,148.03 660.20,148.10 660.70,148.16 661.20,148.22 661.70,148.28 662.20,148.34 662.70,148.39 663.20,148.44 663.70,148.49 664.20,148.53 664.70,148.57" fill="none" stroke="#c9605c" stroke-width="1.1" />
<rect x="497.4" y="87.6" width="167.80000000000007" height="64.30000000000001" fill="none" stroke="#1a1a1a" stroke-width="1.1"/>
<line x1="519.4" y1="151.9" x2="519.4" y2="154.5" stroke="#1a1a1a" stroke-width="0.9" />
<line x1="546.2" y1="151.9" x2="546.2" y2="153.5" stroke="#1a1a1a" stroke-width="0.9" />
<line x1="573" y1="151.9" x2="573" y2="154.5" stroke="#1a1a1a" stroke-width="0.9" />
<line x1="599.8" y1="151.9" x2="599.8" y2="153.5" stroke="#1a1a1a" stroke-width="0.9" />
<line x1="626.6" y1="151.9" x2="626.6" y2="154.5" stroke="#1a1a1a" stroke-width="0.9" />
<line x1="653.4" y1="151.9" x2="653.4" y2="154.5" stroke="#1a1a1a" stroke-width="0.9" />
<text x="518.8" y="163.2" font-size="8.5" text-anchor="middle" fill="#111" font-weight="normal"  >730</text>
<text x="653.4" y="163.2" font-size="8.5" text-anchor="middle" fill="#111" font-weight="normal"  >705</text>
<text x="532" y="168.2" font-size="12" text-anchor="start" fill="#111" font-weight="normal"  >Binding energy / eV</text>
<text x="501.1" y="98" font-size="8.9" text-anchor="start" fill="#111" font-weight="normal"  >Air, 398 days</text>
<text x="501.1" y="108.3" font-size="7.5" text-anchor="start" fill="#111" font-weight="normal"  >K-Fe<tspan font-size="5.2" dy="1.6">2</tspan><tspan dy="-1.6">C@C</tspan></text>
<text x="661.2" y="98" font-size="8.8" text-anchor="end" fill="#111" font-weight="normal"  >XPS</text>
<text x="663.4" y="108.4" font-size="6.6" text-anchor="end" fill="#111" font-weight="normal"  >706.81 <tspan font-style="italic">eV</tspan></text>
<text x="648.3" y="116.8" font-size="6.8" text-anchor="middle" fill="#111" font-weight="normal"  >Fe-C</text>
<text x="648.3" y="125.1" font-size="6.8" text-anchor="middle" fill="#111" font-weight="normal"  >in Fe<tspan font-size="5" dy="1.5">2</tspan><tspan dy="-1.5">C</tspan></text>
<line x1="648.8" y1="127.8" x2="648.8" y2="138" stroke="#111" stroke-width="0.6" />
<polygon points="648.80,140.40 647.60,137.20 650.00,137.20" fill="#111" />
<text transform="translate(485,83) rotate(-90)" font-size="11.6" text-anchor="middle" fill="#111">Intensity / a.u.</text>
<text x="477.5" y="27.7" font-size="13.2" text-anchor="start" fill="#111" font-weight="normal"  >d</text>
<rect x="0.4" y="187.9" width="7.3" height="3.8" fill="#d6e1e9" stroke="#9fb0be" stroke-width="0.5"/>
<text x="10.4" y="192" font-size="6.6" text-anchor="start" fill="#111" font-weight="normal"  >CH<tspan font-size="4.6" dy="1.5">4</tspan></text>
<rect x="28.9" y="187.9" width="7.6" height="3.8" fill="#d27f7b" stroke="#b8625f" stroke-width="0.5"/>
<text x="38.6" y="192" font-size="6.6" text-anchor="start" fill="#111" font-weight="normal"  >C<tspan font-size="4.6" dy="1.5">2</tspan><tspan font-size="4.6" dy="-4.3">=</tspan><tspan dy="2.8">-C</tspan><tspan font-size="4.6" dy="1.5">4</tspan><tspan font-size="4.6" dy="-4.3">=</tspan></text>
<rect x="68" y="187.9" width="7.6" height="3.8" fill="#8197b9" stroke="#6d82a3" stroke-width="0.5"/>
<text x="77.6" y="192" font-size="6.6" text-anchor="start" fill="#111" font-weight="normal"  >C<tspan font-size="4.6" dy="1.5">2</tspan><tspan font-size="4.6" dy="-4.3">o</tspan><tspan dy="2.8">-C</tspan><tspan font-size="4.6" dy="1.5">4</tspan><tspan font-size="4.6" dy="-4.3">o</tspan></text>
<rect x="107.2" y="187.9" width="7.3" height="3.8" fill="#c3c3c3" stroke="#a8a8a8" stroke-width="0.5"/>
<text x="117" y="192" font-size="6.6" text-anchor="start" fill="#111" font-weight="normal"  >C<tspan font-size="4.6" dy="1.5">5+</tspan></text>
<rect x="133" y="188" width="8" height="3.4" fill="url(#hatch)" stroke="#666" stroke-width="0.5"/>
<text x="143.8" y="192" font-size="6.6" text-anchor="start" fill="#111" font-weight="normal"  >CO<tspan font-size="4.6" dy="1.5">2</tspan><tspan dy="-1.5"> Con.</tspan></text>
<rect x="45" y="310.07099999999997" width="13.399999999999999" height="26.328999999999997" fill="#d6e1e9" stroke="#9fb0be" stroke-width="0.5"/>
<rect x="45" y="261.82" width="13.399999999999999" height="48.251" fill="#d27f7b" stroke="#b8625f" stroke-width="0.5"/>
<rect x="45" y="256.39599999999996" width="13.399999999999999" height="5.4239999999999995" fill="#8197b9" stroke="#6d82a3" stroke-width="0.5"/>
<rect x="45" y="223.39999999999998" width="13.399999999999999" height="32.995999999999995" fill="#c3c3c3" stroke="#a8a8a8" stroke-width="0.5"/>
<rect x="58.4" y="215.1" width="13.1" height="121.29999999999998" fill="url(#hatch)" stroke="#555" stroke-width="0.7"/>
<rect x="84.4" y="290.07" width="12.799999999999997" height="46.33" fill="#d6e1e9" stroke="#9fb0be" stroke-width="0.5"/>
<rect x="84.4" y="255.831" width="12.799999999999997" height="34.239" fill="#d27f7b" stroke="#b8625f" stroke-width="0.5"/>
<rect x="84.4" y="235.82999999999998" width="12.799999999999997" height="20.000999999999998" fill="#8197b9" stroke="#6d82a3" stroke-width="0.5"/>
<rect x="84.4" y="223.39999999999998" width="12.799999999999997" height="12.43" fill="#c3c3c3" stroke="#a8a8a8" stroke-width="0.5"/>
<rect x="97.2" y="235.8" width="13.7" height="100.59999999999997" fill="url(#hatch)" stroke="#555" stroke-width="0.7"/>
<rect x="32.3" y="201.4" width="91.5" height="134.99999999999997" fill="none" stroke="#1a1a1a" stroke-width="1.1"/>
<line x1="29.699999999999996" y1="336.4" x2="32.3" y2="336.4" stroke="#1a1a1a" stroke-width="1" />
<text transform="translate(28.10,339.35) scale(0.91,1)" x="0" y="0" font-size="9.4" text-anchor="end" fill="#111" font-weight="normal"  >0</text>
<line x1="29.699999999999996" y1="313.79999999999995" x2="32.3" y2="313.79999999999995" stroke="#1a1a1a" stroke-width="1" />
<text transform="translate(28.10,316.75) scale(0.91,1)" x="0" y="0" font-size="9.4" text-anchor="end" fill="#111" font-weight="normal"  >20</text>
<line x1="29.699999999999996" y1="291.2" x2="32.3" y2="291.2" stroke="#1a1a1a" stroke-width="1" />
<text transform="translate(28.10,294.15) scale(0.91,1)" x="0" y="0" font-size="9.4" text-anchor="end" fill="#111" font-weight="normal"  >40</text>
<line x1="29.699999999999996" y1="268.59999999999997" x2="32.3" y2="268.59999999999997" stroke="#1a1a1a" stroke-width="1" />
<text transform="translate(28.10,271.55) scale(0.91,1)" x="0" y="0" font-size="9.4" text-anchor="end" fill="#111" font-weight="normal"  >60</text>
<line x1="29.699999999999996" y1="246.0" x2="32.3" y2="246.0" stroke="#1a1a1a" stroke-width="1" />
<text transform="translate(28.10,248.95) scale(0.91,1)" x="0" y="0" font-size="9.4" text-anchor="end" fill="#111" font-weight="normal"  >80</text>
<line x1="29.699999999999996" y1="223.39999999999998" x2="32.3" y2="223.39999999999998" stroke="#1a1a1a" stroke-width="1" />
<text transform="translate(28.10,226.35) scale(0.91,1)" x="0" y="0" font-size="9.4" text-anchor="end" fill="#111" font-weight="normal"  >100</text>
<line x1="30.799999999999997" y1="325.09999999999997" x2="32.3" y2="325.09999999999997" stroke="#1a1a1a" stroke-width="1" />
<line x1="30.799999999999997" y1="302.5" x2="32.3" y2="302.5" stroke="#1a1a1a" stroke-width="1" />
<line x1="30.799999999999997" y1="279.9" x2="32.3" y2="279.9" stroke="#1a1a1a" stroke-width="1" />
<line x1="30.799999999999997" y1="257.29999999999995" x2="32.3" y2="257.29999999999995" stroke="#1a1a1a" stroke-width="1" />
<line x1="30.799999999999997" y1="234.7" x2="32.3" y2="234.7" stroke="#1a1a1a" stroke-width="1" />
<line x1="30.799999999999997" y1="212.1" x2="32.3" y2="212.1" stroke="#1a1a1a" stroke-width="1" />
<line x1="123.8" y1="336.4" x2="126.39999999999999" y2="336.4" stroke="#1a1a1a" stroke-width="1" />
<text transform="translate(128.10,339.35) scale(0.91,1)" x="0" y="0" font-size="9.4" text-anchor="start" fill="#111" font-weight="normal"  >0</text>
<line x1="123.8" y1="301.59999999999997" x2="126.39999999999999" y2="301.59999999999997" stroke="#1a1a1a" stroke-width="1" />
<text transform="translate(128.10,304.55) scale(0.91,1)" x="0" y="0" font-size="9.4" text-anchor="start" fill="#111" font-weight="normal"  >10</text>
<line x1="123.8" y1="266.79999999999995" x2="126.39999999999999" y2="266.79999999999995" stroke="#1a1a1a" stroke-width="1" />
<text transform="translate(128.10,269.75) scale(0.91,1)" x="0" y="0" font-size="9.4" text-anchor="start" fill="#111" font-weight="normal"  >20</text>
<line x1="123.8" y1="231.99999999999997" x2="126.39999999999999" y2="231.99999999999997" stroke="#1a1a1a" stroke-width="1" />
<text transform="translate(128.10,234.95) scale(0.91,1)" x="0" y="0" font-size="9.4" text-anchor="start" fill="#111" font-weight="normal"  >30</text>
<line x1="123.8" y1="319.0" x2="125.3" y2="319.0" stroke="#1a1a1a" stroke-width="1" />
<line x1="123.8" y1="284.2" x2="125.3" y2="284.2" stroke="#1a1a1a" stroke-width="1" />
<line x1="123.8" y1="249.39999999999998" x2="125.3" y2="249.39999999999998" stroke="#1a1a1a" stroke-width="1" />
<line x1="123.8" y1="214.59999999999997" x2="125.3" y2="214.59999999999997" stroke="#1a1a1a" stroke-width="1" />
<line x1="58.4" y1="336.4" x2="58.4" y2="339.0" stroke="#1a1a1a" stroke-width="1" />
<line x1="97.2" y1="336.4" x2="97.2" y2="339.0" stroke="#1a1a1a" stroke-width="1" />
<text x="54.3" y="209.7" font-size="6.5" text-anchor="middle" fill="#111" font-weight="normal"  >O/P: 8.7</text>
<text x="99.6" y="209.7" font-size="6.5" text-anchor="middle" fill="#111" font-weight="normal"  >O/P: 1.7</text>
<text x="51" y="348.5" font-size="8.6" text-anchor="middle" fill="#111" font-weight="normal"  >K-Fe<tspan font-size="6" dy="2">2</tspan><tspan dy="-2">C@C</tspan></text>
<text x="104.6" y="348.5" font-size="8.6" text-anchor="middle" fill="#111" font-weight="normal"  >K-Fe<tspan font-size="6" dy="2">2</tspan><tspan dy="-2">C@C-I</tspan><tspan font-size="6" dy="2">2</tspan></text>
<text x="12.6" y="210" font-size="14" text-anchor="start" fill="#111" font-weight="bold"  >e</text>
<text transform="translate(10.6,269.4) rotate(-90)" font-size="11.5" text-anchor="middle" fill="#111">CO-free Sel. / %</text>
<text transform="translate(144,269.5) rotate(90)" font-size="11.5" text-anchor="middle" fill="#111">CO<tspan font-size="8" dy="2">2</tspan><tspan dy="-2"> Con. / %</tspan></text>
<line x1="342.4" y1="189.5" x2="347.9" y2="189.5" stroke="#c9504c" stroke-width="0.9" />
<line x1="356" y1="189.5" x2="361.5" y2="189.5" stroke="#c9504c" stroke-width="0.9" />
<circle cx="351.9" cy="189.5" r="2.7" fill="#fff" stroke="#c9504c" stroke-width="0.8"/>
<text x="365.9" y="191.8" font-size="6.6" text-anchor="start" fill="#111" font-weight="normal"  >C<tspan font-size="4.6" dy="1.5">2</tspan><tspan font-size="4.6" dy="-4.3">=</tspan><tspan dy="2.8">-C</tspan><tspan font-size="4.6" dy="1.5">4</tspan><tspan font-size="4.6" dy="-4.3">=</tspan></text>
<line x1="400.7" y1="189.5" x2="406.2" y2="189.5" stroke="#3d5a8c" stroke-width="0.9" />
<line x1="413.6" y1="189.5" x2="419.1" y2="189.5" stroke="#3d5a8c" stroke-width="0.9" />
<rect x="407.5" y="187.1" width="4.8" height="4.8" fill="#fff" stroke="#3d5a8c" stroke-width="0.8"/>
<text x="423.4" y="191.8" font-size="6.6" text-anchor="start" fill="#111" font-weight="normal"  >C<tspan font-size="4.6" dy="1.5">2</tspan><tspan font-size="4.6" dy="-4.3">o</tspan><tspan dy="2.8">-C</tspan><tspan font-size="4.6" dy="1.5">4</tspan><tspan font-size="4.6" dy="-4.3">o</tspan></text>
<line x1="458.7" y1="189.5" x2="464.2" y2="189.5" stroke="#a9bccd" stroke-width="0.9" />
<line x1="471.6" y1="189.5" x2="477.1" y2="189.5" stroke="#a9bccd" stroke-width="0.9" />
<polygon points="467.90,186.60 470.94,188.81 469.78,192.39 466.02,192.39 464.86,188.81" fill="#e3e9ef" stroke="#a2b6c8" stroke-width="0.8" stroke-linejoin="round"/>
<text x="479.4" y="191.8" font-size="6.6" text-anchor="start" fill="#111" font-weight="normal"  >CO<tspan font-size="4.6" dy="1.5">2</tspan><tspan dy="-1.5"> Con.</tspan></text>
<line x1="220.94" y1="240.19" x2="229.49" y2="240.51" stroke="#c9504c" stroke-width="1.0" />
<line x1="240.09" y1="240.78" x2="248.63" y2="240.92" stroke="#c9504c" stroke-width="1.0" />
<line x1="259.23" y1="241.0" x2="267.77" y2="241.0" stroke="#c9504c" stroke-width="1.0" />
<line x1="278.37" y1="241.03" x2="286.91" y2="241.07" stroke="#c9504c" stroke-width="1.0" />
<line x1="297.51" y1="241.1" x2="306.05" y2="241.1" stroke="#c9504c" stroke-width="1.0" />
<line x1="316.65" y1="241.1" x2="325.19" y2="241.1" stroke="#c9504c" stroke-width="1.0" />
<line x1="335.79" y1="241.1" x2="344.33" y2="241.1" stroke="#c9504c" stroke-width="1.0" />
<line x1="354.93" y1="241.1" x2="363.47" y2="241.1" stroke="#c9504c" stroke-width="1.0" />
<circle cx="215.65" cy="240.00" r="3.7" fill="#fff" stroke="#c9504c" stroke-width="0.95"/>
<circle cx="234.79" cy="240.70" r="3.7" fill="#fff" stroke="#c9504c" stroke-width="0.95"/>
<circle cx="253.93" cy="241.00" r="3.7" fill="#fff" stroke="#c9504c" stroke-width="0.95"/>
<circle cx="273.07" cy="241.00" r="3.7" fill="#fff" stroke="#c9504c" stroke-width="0.95"/>
<circle cx="292.21" cy="241.10" r="3.7" fill="#fff" stroke="#c9504c" stroke-width="0.95"/>
<circle cx="311.35" cy="241.10" r="3.7" fill="#fff" stroke="#c9504c" stroke-width="0.95"/>
<circle cx="330.49" cy="241.10" r="3.7" fill="#fff" stroke="#c9504c" stroke-width="0.95"/>
<circle cx="349.63" cy="241.10" r="3.7" fill="#fff" stroke="#c9504c" stroke-width="0.95"/>
<circle cx="368.77" cy="241.10" r="3.7" fill="#fff" stroke="#c9504c" stroke-width="0.95"/>
<line x1="221.05" y1="267.19" x2="229.39" y2="267.01" stroke="#a2b6c8" stroke-width="1.0" />
<line x1="240.19" y1="267.01" x2="248.53" y2="267.19" stroke="#a2b6c8" stroke-width="1.0" />
<line x1="259.32" y1="267.58" x2="267.67" y2="268.02" stroke="#a2b6c8" stroke-width="1.0" />
<line x1="278.46" y1="268.5" x2="286.81" y2="268.8" stroke="#a2b6c8" stroke-width="1.0" />
<line x1="297.61" y1="269.0" x2="305.95" y2="269.0" stroke="#a2b6c8" stroke-width="1.0" />
<line x1="316.75" y1="269.0" x2="325.09" y2="269.0" stroke="#a2b6c8" stroke-width="1.0" />
<line x1="335.89" y1="269.0" x2="344.23" y2="269.0" stroke="#a2b6c8" stroke-width="1.0" />
<line x1="355.03" y1="269.0" x2="363.37" y2="269.0" stroke="#a2b6c8" stroke-width="1.0" />
<polygon points="215.65,263.40 219.74,266.37 218.17,271.18 213.12,271.18 211.56,266.37" fill="#e3e9ef" stroke="#a2b6c8" stroke-width="1.0" stroke-linejoin="round"/>
<polygon points="234.79,263.00 238.88,265.97 237.31,270.78 232.26,270.78 230.70,265.97" fill="#e3e9ef" stroke="#a2b6c8" stroke-width="1.0" stroke-linejoin="round"/>
<polygon points="253.93,263.40 258.02,266.37 256.45,271.18 251.40,271.18 249.84,266.37" fill="#e3e9ef" stroke="#a2b6c8" stroke-width="1.0" stroke-linejoin="round"/>
<polygon points="273.07,264.40 277.16,267.37 275.59,272.18 270.54,272.18 268.98,267.37" fill="#e3e9ef" stroke="#a2b6c8" stroke-width="1.0" stroke-linejoin="round"/>
<polygon points="292.21,265.10 296.30,268.07 294.73,272.88 289.68,272.88 288.12,268.07" fill="#e3e9ef" stroke="#a2b6c8" stroke-width="1.0" stroke-linejoin="round"/>
<polygon points="311.35,265.10 315.44,268.07 313.87,272.88 308.82,272.88 307.26,268.07" fill="#e3e9ef" stroke="#a2b6c8" stroke-width="1.0" stroke-linejoin="round"/>
<polygon points="330.49,265.10 334.58,268.07 333.01,272.88 327.96,272.88 326.40,268.07" fill="#e3e9ef" stroke="#a2b6c8" stroke-width="1.0" stroke-linejoin="round"/>
<polygon points="349.63,265.10 353.72,268.07 352.15,272.88 347.10,272.88 345.54,268.07" fill="#e3e9ef" stroke="#a2b6c8" stroke-width="1.0" stroke-linejoin="round"/>
<polygon points="368.77,265.10 372.86,268.07 371.29,272.88 366.24,272.88 364.68,268.07" fill="#e3e9ef" stroke="#a2b6c8" stroke-width="1.0" stroke-linejoin="round"/>
<line x1="220.65" y1="325.4" x2="229.79" y2="325.4" stroke="#3d5a8c" stroke-width="1.0" />
<line x1="239.79" y1="325.4" x2="248.93" y2="325.4" stroke="#3d5a8c" stroke-width="1.0" />
<line x1="258.93" y1="325.4" x2="268.07" y2="325.4" stroke="#3d5a8c" stroke-width="1.0" />
<line x1="278.07" y1="325.4" x2="287.21" y2="325.4" stroke="#3d5a8c" stroke-width="1.0" />
<line x1="297.21" y1="325.4" x2="306.35" y2="325.4" stroke="#3d5a8c" stroke-width="1.0" />
<line x1="316.35" y1="325.4" x2="325.49" y2="325.4" stroke="#3d5a8c" stroke-width="1.0" />
<line x1="335.49" y1="325.4" x2="344.63" y2="325.4" stroke="#3d5a8c" stroke-width="1.0" />
<line x1="354.63" y1="325.4" x2="363.77" y2="325.4" stroke="#3d5a8c" stroke-width="1.0" />
<rect x="212.55" y="322.3" width="6.2" height="6.2" fill="#fff" stroke="#3d5a8c" stroke-width="1.0"/>
<rect x="231.69" y="322.3" width="6.2" height="6.2" fill="#fff" stroke="#3d5a8c" stroke-width="1.0"/>
<rect x="250.83" y="322.3" width="6.2" height="6.2" fill="#fff" stroke="#3d5a8c" stroke-width="1.0"/>
<rect x="269.97" y="322.3" width="6.2" height="6.2" fill="#fff" stroke="#3d5a8c" stroke-width="1.0"/>
<rect x="289.11" y="322.3" width="6.2" height="6.2" fill="#fff" stroke="#3d5a8c" stroke-width="1.0"/>
<rect x="308.25" y="322.3" width="6.2" height="6.2" fill="#fff" stroke="#3d5a8c" stroke-width="1.0"/>
<rect x="327.39" y="322.3" width="6.2" height="6.2" fill="#fff" stroke="#3d5a8c" stroke-width="1.0"/>
<rect x="346.53" y="322.3" width="6.2" height="6.2" fill="#fff" stroke="#3d5a8c" stroke-width="1.0"/>
<rect x="365.67" y="322.3" width="6.2" height="6.2" fill="#fff" stroke="#3d5a8c" stroke-width="1.0"/>
<rect x="198.9" y="201.4" width="191.4" height="134.99999999999997" fill="none" stroke="#1a1a1a" stroke-width="1.1"/>
<line x1="196.3" y1="336.4" x2="198.9" y2="336.4" stroke="#1a1a1a" stroke-width="1" />
<text transform="translate(194.70,339.35) scale(0.91,1)" x="0" y="0" font-size="9.4" text-anchor="end" fill="#111" font-weight="normal"  >0</text>
<line x1="196.3" y1="291.4" x2="198.9" y2="291.4" stroke="#1a1a1a" stroke-width="1" />
<text transform="translate(194.70,294.35) scale(0.91,1)" x="0" y="0" font-size="9.4" text-anchor="end" fill="#111" font-weight="normal"  >20</text>
<line x1="196.3" y1="246.39999999999998" x2="198.9" y2="246.39999999999998" stroke="#1a1a1a" stroke-width="1" />
<text transform="translate(194.70,249.35) scale(0.91,1)" x="0" y="0" font-size="9.4" text-anchor="end" fill="#111" font-weight="normal"  >40</text>
<line x1="196.3" y1="201.39999999999998" x2="198.9" y2="201.39999999999998" stroke="#1a1a1a" stroke-width="1" />
<text transform="translate(194.70,204.35) scale(0.91,1)" x="0" y="0" font-size="9.4" text-anchor="end" fill="#111" font-weight="normal"  >60</text>
<line x1="197.4" y1="313.9" x2="198.9" y2="313.9" stroke="#1a1a1a" stroke-width="1" />
<line x1="197.4" y1="268.9" x2="198.9" y2="268.9" stroke="#1a1a1a" stroke-width="1" />
<line x1="197.4" y1="223.89999999999998" x2="198.9" y2="223.89999999999998" stroke="#1a1a1a" stroke-width="1" />
<line x1="390.3" y1="336.4" x2="392.90000000000003" y2="336.4" stroke="#1a1a1a" stroke-width="1" />
<text transform="translate(394.30,339.35) scale(0.91,1)" x="0" y="0" font-size="9.4" text-anchor="start" fill="#111" font-weight="normal"  >0</text>
<line x1="390.3" y1="298.08599999999996" x2="392.90000000000003" y2="298.08599999999996" stroke="#1a1a1a" stroke-width="1" />
<text transform="translate(394.30,301.04) scale(0.91,1)" x="0" y="0" font-size="9.4" text-anchor="start" fill="#111" font-weight="normal"  >20</text>
<line x1="390.3" y1="259.772" x2="392.90000000000003" y2="259.772" stroke="#1a1a1a" stroke-width="1" />
<text transform="translate(394.30,262.72) scale(0.91,1)" x="0" y="0" font-size="9.4" text-anchor="start" fill="#111" font-weight="normal"  >40</text>
<line x1="390.3" y1="221.45799999999997" x2="392.90000000000003" y2="221.45799999999997" stroke="#1a1a1a" stroke-width="1" />
<text transform="translate(394.30,224.41) scale(0.91,1)" x="0" y="0" font-size="9.4" text-anchor="start" fill="#111" font-weight="normal"  >60</text>
<line x1="390.3" y1="317.243" x2="391.8" y2="317.243" stroke="#1a1a1a" stroke-width="1" />
<line x1="390.3" y1="278.929" x2="391.8" y2="278.929" stroke="#1a1a1a" stroke-width="1" />
<line x1="390.3" y1="240.61499999999998" x2="391.8" y2="240.61499999999998" stroke="#1a1a1a" stroke-width="1" />
<line x1="390.3" y1="202.301" x2="391.8" y2="202.301" stroke="#1a1a1a" stroke-width="1" />
<line x1="198.9" y1="336.4" x2="198.9" y2="339.0" stroke="#1a1a1a" stroke-width="1" />
<text transform="translate(198.90,348.60) scale(0.91,1)" x="0" y="0" font-size="9.7" text-anchor="middle" fill="#111" font-weight="normal"  >0</text>
<line x1="237.18" y1="336.4" x2="237.18" y2="339.0" stroke="#1a1a1a" stroke-width="1" />
<text transform="translate(237.18,348.60) scale(0.91,1)" x="0" y="0" font-size="9.7" text-anchor="middle" fill="#111" font-weight="normal"  >8</text>
<line x1="275.46000000000004" y1="336.4" x2="275.46000000000004" y2="339.0" stroke="#1a1a1a" stroke-width="1" />
<text transform="translate(275.46,348.60) scale(0.91,1)" x="0" y="0" font-size="9.7" text-anchor="middle" fill="#111" font-weight="normal"  >16</text>
<line x1="313.74" y1="336.4" x2="313.74" y2="339.0" stroke="#1a1a1a" stroke-width="1" />
<text transform="translate(313.74,348.60) scale(0.91,1)" x="0" y="0" font-size="9.7" text-anchor="middle" fill="#111" font-weight="normal"  >24</text>
<line x1="352.02" y1="336.4" x2="352.02" y2="339.0" stroke="#1a1a1a" stroke-width="1" />
<text transform="translate(352.02,348.60) scale(0.91,1)" x="0" y="0" font-size="9.7" text-anchor="middle" fill="#111" font-weight="normal"  >32</text>
<line x1="390.3" y1="336.4" x2="390.3" y2="339.0" stroke="#1a1a1a" stroke-width="1" />
<line x1="218.04000000000002" y1="336.4" x2="218.04000000000002" y2="337.9" stroke="#1a1a1a" stroke-width="1" />
<line x1="256.32" y1="336.4" x2="256.32" y2="337.9" stroke="#1a1a1a" stroke-width="1" />
<line x1="294.6" y1="336.4" x2="294.6" y2="337.9" stroke="#1a1a1a" stroke-width="1" />
<line x1="332.88" y1="336.4" x2="332.88" y2="337.9" stroke="#1a1a1a" stroke-width="1" />
<line x1="371.15999999999997" y1="336.4" x2="371.15999999999997" y2="337.9" stroke="#1a1a1a" stroke-width="1" />
<text x="286" y="357.8" font-size="11" text-anchor="start" fill="#111" font-weight="normal"  ><tspan font-style="italic">t</tspan> / h</text>
<text x="232.2" y="213.9" font-size="8.9" text-anchor="start" fill="#111" font-weight="normal"  >K-Fe<tspan font-size="6.2" dy="2">2</tspan><tspan dy="-2">C@C: stable for over 36 h</tspan></text>
<text x="169.6" y="209.8" font-size="13.6" text-anchor="start" fill="#111" font-weight="normal"  >f</text>
<text transform="translate(182.2,268.9) rotate(-90)" font-size="11.5" text-anchor="middle" fill="#111">CO-free Sel. / %</text>
<text transform="translate(409.4,269.8) rotate(90)" font-size="11.5" text-anchor="middle" fill="#111">CO<tspan font-size="8" dy="2">2</tspan><tspan dy="-2"> Con. / %</tspan></text>
<polyline points="511.60,233.20 511.76,231.04 511.92,229.23 512.08,233.84 512.24,227.48 512.40,231.71 512.56,229.21 512.72,228.09 512.88,232.28 513.04,227.62 513.20,236.89 513.36,228.93 513.52,237.17 513.68,227.30 513.84,232.74 514.00,226.96 514.16,226.51 514.32,231.31 514.48,232.97 514.64,226.72 514.80,234.59 514.96,228.25 515.12,231.22 515.28,232.02 515.44,232.70 515.60,225.05 515.76,235.98 515.92,232.60 516.08,229.44 516.24,227.52 516.40,225.38 516.56,231.51 516.72,232.54 516.88,229.71 517.04,227.18 517.20,229.11 517.36,235.81 517.52,229.74 517.68,228.93 517.84,235.12 518.00,232.28 518.16,230.94 518.32,228.86 518.48,225.83 518.64,227.05 518.80,229.26 518.96,230.10 519.12,231.94 519.28,232.57 519.44,231.51 519.60,231.51 519.76,227.58 519.92,223.90 520.08,229.13 520.24,227.75 520.40,228.71 520.56,229.92 520.72,226.82 520.88,227.25 521.04,230.48 521.20,231.17 521.36,228.70 521.52,232.39 521.68,230.10 521.84,227.54 522.00,230.93 522.16,236.82 522.32,228.64 522.48,234.53 522.64,235.21 522.80,235.59 522.96,228.17 523.12,237.25 523.28,231.17 523.44,229.99 523.60,230.06 523.76,232.73 523.92,230.96 524.08,230.23 524.24,234.91 524.40,228.49 524.56,227.46 524.72,233.34 524.88,233.05 525.04,234.30 525.20,227.37 525.36,234.26 525.52,232.34 525.68,236.44 525.84,226.81 526.00,231.50 526.16,229.91 526.32,225.71 526.48,228.51 526.64,234.41 526.80,229.30 526.96,228.49 527.12,233.58 527.28,233.96 527.44,233.96 527.60,228.27 527.76,230.61 527.92,234.10 528.08,228.70 528.24,228.40 528.40,233.45 528.56,235.80 528.72,227.11 528.88,222.49 529.04,226.16 529.20,227.56 529.36,230.36 529.52,232.77 529.68,230.33 529.84,228.56 530.00,231.29 530.16,227.72 530.32,230.65 530.48,228.75 530.64,239.00 530.80,233.41 530.96,228.13 531.12,227.61 531.28,229.40 531.44,225.54 531.60,228.46 531.76,228.44 531.92,233.63 532.08,229.43 532.24,228.27 532.40,226.51 532.56,227.03 532.72,230.59 532.88,230.11 533.04,234.43 533.20,228.79 533.36,234.19 533.52,231.62 533.68,230.78 533.84,224.37 534.00,226.67 534.16,233.17 534.32,235.27 534.48,231.46 534.64,233.24 534.80,229.49 534.96,229.61 535.12,228.68 535.28,233.92 535.44,231.90 535.60,230.05 535.76,229.75 535.92,232.58 536.08,231.83 536.24,228.14 536.40,236.29 536.56,231.62 536.72,230.83 536.88,235.52 537.04,234.07 537.20,230.51 537.36,232.51 537.52,227.37 537.68,228.74 537.84,223.56 538.00,234.70 538.16,224.72 538.32,232.97 538.48,228.13 538.64,227.66 538.80,230.17 538.96,231.64 539.12,232.75 539.28,236.46 539.44,231.94 539.60,233.61 539.76,228.87 539.92,233.07 540.08,231.27 540.24,229.30 540.40,230.47 540.56,230.58 540.72,231.39 540.88,232.06 541.04,229.14 541.20,228.40 541.36,233.16 541.52,225.34 541.68,228.79 541.84,235.73 542.00,222.09 542.16,228.54 542.32,232.95 542.48,225.47 542.64,239.00 542.80,222.46 542.96,235.33 543.12,235.72 543.28,233.66 543.44,230.01 543.60,231.86 543.76,227.84 543.92,233.30 544.08,227.12 544.24,229.82 544.40,233.88 544.56,227.12 544.72,229.51 544.88,231.20 545.04,226.37 545.20,234.38 545.36,231.74 545.52,225.79 545.68,230.48 545.84,228.14 546.00,228.51 546.16,230.85 546.32,228.32 546.48,233.67 546.64,228.32 546.80,233.70 546.96,230.41 547.12,233.28 547.28,228.79 547.44,228.90 547.60,226.81 547.76,232.34 547.92,233.48 548.08,237.24 548.24,234.58 548.40,231.23 548.56,229.75 548.72,231.65 548.88,230.30 549.04,235.06 549.20,233.38 549.36,227.67 549.52,228.13 549.68,234.69 549.84,231.29 550.00,229.55 550.16,234.07 550.32,229.02 550.48,229.35 550.64,228.75 550.80,223.93 550.96,232.96 551.12,226.31 551.28,228.34 551.44,227.77 551.60,232.46 551.76,229.90 551.92,230.16 552.08,224.72 552.24,229.80 552.40,225.34 552.56,231.03 552.72,231.21 552.88,229.97 553.04,236.55 553.20,231.69 553.36,231.90 553.52,230.44 553.68,229.36 553.84,233.05 554.00,233.48 554.16,225.78 554.32,233.31 554.48,231.58 554.64,233.00 554.80,231.41 554.96,225.93 555.12,226.16 555.28,235.75 555.44,230.71 555.60,225.37 555.76,231.01 555.92,228.74 556.08,224.00 556.24,222.57 556.40,224.77 556.56,230.77 556.72,229.75 556.88,229.11 557.04,230.83 557.20,231.84 557.36,223.20 557.52,228.97 557.68,227.29 557.84,226.00 558.00,228.20 558.16,229.57 558.32,229.12 558.48,225.33 558.64,228.45 558.80,236.45 558.96,224.74 559.12,224.63 559.28,230.92 559.44,231.96 559.60,231.55 559.76,226.50 559.92,233.29 560.08,227.59 560.24,226.49 560.40,228.19 560.56,229.80 560.72,232.45 560.88,232.18 561.04,230.12 561.20,233.20 561.36,230.49 561.52,233.11 561.68,225.76 561.84,225.23 562.00,232.77 562.16,225.85 562.32,229.35 562.48,230.02 562.64,228.79 562.80,228.91 562.96,234.83 563.12,222.30 563.28,233.24 563.44,237.77 563.60,230.51 563.76,230.39 563.92,232.79 564.08,236.33 564.24,226.69 564.40,230.78 564.56,229.92 564.72,232.32 564.88,231.05 565.04,232.66 565.20,229.21 565.36,230.73 565.52,228.44 565.68,228.47 565.84,230.15 566.00,230.16 566.16,226.87 566.32,235.65 566.48,230.21 566.64,226.22 566.80,234.18 566.96,228.27 567.12,232.30 567.28,230.62 567.44,231.49 567.60,231.24 567.76,228.86 567.92,230.83 568.08,237.21 568.24,223.55 568.40,230.93 568.56,232.12 568.72,227.36 568.88,226.35 569.04,237.65 569.20,229.55 569.36,237.40 569.52,232.46 569.68,231.00 569.84,232.28 570.00,232.79 570.16,234.54 570.32,232.16 570.48,231.23 570.64,231.33 570.80,235.10 570.96,233.39 571.12,227.57 571.28,228.74 571.44,231.84 571.60,228.79 571.76,229.58 571.92,227.72 572.08,229.95 572.24,232.14 572.40,233.97 572.56,230.82 572.72,237.43 572.88,230.54 573.04,239.00 573.20,234.00 573.36,232.38 573.52,229.20 573.68,221.75 573.84,230.30 574.00,231.36 574.16,236.95 574.32,226.38 574.48,236.89 574.64,229.99 574.80,233.11 574.96,222.67 575.12,231.24 575.28,229.70 575.44,232.98 575.60,231.09 575.76,227.14 575.92,233.83 576.08,233.02 576.24,232.71 576.40,234.03 576.56,234.32 576.72,230.73 576.88,226.45 577.04,226.37 577.20,235.12 577.36,233.07 577.52,231.13 577.68,229.41 577.84,230.90 578.00,230.88 578.16,229.72 578.32,228.56 578.48,237.73 578.64,231.53 578.80,228.86 578.96,226.63 579.12,228.48 579.28,233.10 579.44,233.23 579.60,230.10 579.76,230.97 579.92,229.82 580.08,227.25 580.24,234.97 580.40,231.99 580.56,238.72 580.72,228.38 580.88,230.36 581.04,233.63 581.20,230.02 581.36,226.36 581.52,227.76 581.68,231.12 581.84,231.90 582.00,230.50 582.16,234.01 582.32,233.98 582.48,231.83 582.64,230.89 582.80,229.99 582.96,232.56 583.12,233.74 583.28,230.99 583.44,232.24 583.60,229.76 583.76,226.28 583.92,227.60 584.08,233.25 584.24,232.23 584.40,235.89 584.56,230.98 584.72,233.57 584.88,235.03 585.04,233.98 585.20,228.85 585.36,230.21 585.52,231.22 585.68,227.65 585.84,232.32 586.00,234.08 586.16,229.26 586.32,237.11 586.48,229.87 586.64,230.15 586.80,230.04 586.96,228.53 587.12,232.14 587.28,230.86 587.44,236.12 587.60,232.74 587.76,232.52 587.92,230.09 588.08,226.27 588.24,230.51 588.40,228.08 588.56,233.85 588.72,226.60 588.88,236.13 589.04,233.15 589.20,233.47 589.36,231.54 589.52,231.47 589.68,232.89 589.84,233.75 590.00,228.53 590.16,232.38 590.32,239.00 590.48,230.51 590.64,229.30 590.80,228.58 590.96,226.16 591.12,234.60 591.28,231.00 591.44,231.76 591.60,236.70 591.76,238.83 591.92,227.96 592.08,234.17 592.24,232.80 592.40,232.08 592.56,232.34 592.72,230.73 592.88,235.89 593.04,232.77 593.20,231.91 593.36,234.80 593.52,233.68 593.68,232.28 593.84,231.85 594.00,236.43 594.16,232.44 594.32,230.52 594.48,228.07 594.64,229.71 594.80,227.45 594.96,231.15 595.12,231.63 595.28,224.25 595.44,230.87 595.60,232.89 595.76,231.34 595.92,227.75 596.08,234.87 596.24,228.58 596.40,226.88 596.56,227.35 596.72,230.76 596.88,233.95 597.04,234.54 597.20,231.48 597.36,226.99 597.52,228.71 597.68,227.93 597.84,230.24 598.00,225.13 598.16,231.16 598.32,232.87 598.48,230.33 598.64,232.28 598.80,227.80 598.96,226.15 599.12,228.76 599.28,234.51 599.44,234.10 599.60,229.34 599.76,234.65 599.92,229.76 600.08,235.64 600.24,232.35 600.40,229.36 600.56,233.35 600.72,228.32 600.88,227.81 601.04,226.16 601.20,231.63 601.36,230.63 601.52,230.55 601.68,229.49 601.84,235.40 602.00,229.44 602.16,228.49 602.32,234.79 602.48,235.35 602.64,231.88 602.80,225.23 602.96,228.88 603.12,232.76 603.28,230.86 603.44,235.77 603.60,226.43 603.76,232.97 603.92,228.79 604.08,235.03 604.24,230.56 604.40,234.10 604.56,228.73 604.72,226.29 604.88,227.25 605.04,228.86 605.20,227.52 605.36,234.64 605.52,235.08 605.68,231.67 605.84,227.49 606.00,230.42 606.16,228.60 606.32,235.45 606.48,231.81 606.64,232.37 606.80,229.52 606.96,224.36 607.12,228.33 607.28,227.23 607.44,231.98 607.60,231.11 607.76,228.23 607.92,229.56 608.08,235.81 608.24,227.73 608.40,227.86 608.56,230.07 608.72,228.56 608.88,229.43 609.04,232.50 609.20,236.34 609.36,225.11 609.52,230.74 609.68,230.93 609.84,230.53 610.00,230.20 610.16,229.71 610.32,234.01 610.48,229.31 610.64,230.39 610.80,224.95 610.96,231.14 611.12,230.25 611.28,234.00 611.44,230.77 611.60,231.36 611.76,230.64 611.92,227.59 612.08,228.14 612.24,227.44 612.40,231.42 612.56,228.52 612.72,227.40 612.88,231.56 613.04,232.48 613.20,225.17 613.36,236.21 613.52,230.90 613.68,230.46 613.84,234.21 614.00,231.02 614.16,228.87 614.32,237.82 614.48,227.36 614.64,230.49 614.80,233.51 614.96,227.38 615.12,230.47 615.28,232.04 615.44,238.49 615.60,227.94 615.76,230.65 615.92,232.91 616.08,231.06 616.24,226.95 616.40,232.11 616.56,231.14 616.72,232.23 616.88,234.42" fill="none" stroke="#4a76b6" stroke-width="0.55" />
<line x1="511.4" y1="240.4" x2="617" y2="240.4" stroke="#222" stroke-width="0.9" />
<line x1="517.9333333333334" y1="240.4" x2="517.9333333333334" y2="241.4" stroke="#222" stroke-width="0.6" />
<line x1="524.5" y1="240.4" x2="524.5" y2="242.20000000000002" stroke="#222" stroke-width="0.6" />
<line x1="531.0666666666666" y1="240.4" x2="531.0666666666666" y2="241.4" stroke="#222" stroke-width="0.6" />
<line x1="537.6333333333333" y1="240.4" x2="537.6333333333333" y2="241.4" stroke="#222" stroke-width="0.6" />
<line x1="544.2" y1="240.4" x2="544.2" y2="242.20000000000002" stroke="#222" stroke-width="0.6" />
<line x1="550.7666666666667" y1="240.4" x2="550.7666666666667" y2="241.4" stroke="#222" stroke-width="0.6" />
<line x1="557.3333333333333" y1="240.4" x2="557.3333333333333" y2="241.4" stroke="#222" stroke-width="0.6" />
<line x1="563.9" y1="240.4" x2="563.9" y2="242.20000000000002" stroke="#222" stroke-width="0.6" />
<line x1="570.4666666666667" y1="240.4" x2="570.4666666666667" y2="241.4" stroke="#222" stroke-width="0.6" />
<line x1="577.0333333333333" y1="240.4" x2="577.0333333333333" y2="241.4" stroke="#222" stroke-width="0.6" />
<line x1="583.5999999999999" y1="240.4" x2="583.5999999999999" y2="242.20000000000002" stroke="#222" stroke-width="0.6" />
<line x1="590.1666666666666" y1="240.4" x2="590.1666666666666" y2="241.4" stroke="#222" stroke-width="0.6" />
<line x1="596.7333333333333" y1="240.4" x2="596.7333333333333" y2="241.4" stroke="#222" stroke-width="0.6" />
<line x1="603.3" y1="240.4" x2="603.3" y2="242.20000000000002" stroke="#222" stroke-width="0.6" />
<line x1="609.8666666666666" y1="240.4" x2="609.8666666666666" y2="241.4" stroke="#222" stroke-width="0.6" />
<text x="524.5" y="246.6" font-size="5" text-anchor="middle" fill="#222" font-weight="normal"  >39</text>
<text x="544.2" y="246.6" font-size="5" text-anchor="middle" fill="#222" font-weight="normal"  >42</text>
<text x="563.9" y="246.6" font-size="5" text-anchor="middle" fill="#222" font-weight="normal"  >45</text>
<text x="583.5999999999999" y="246.6" font-size="5" text-anchor="middle" fill="#222" font-weight="normal"  >48</text>
<text x="603.3" y="246.6" font-size="5" text-anchor="middle" fill="#222" font-weight="normal"  >51</text>
<text x="563.9" y="253.5" font-size="5.8" text-anchor="middle" fill="#111" font-weight="normal"  >2<tspan font-style="italic">θ</tspan> / Degree</text>
<line x1="489.24" y1="259.65" x2="497.95" y2="261.25" stroke="#c9504c" stroke-width="1.0" />
<line x1="508.35" y1="263.26" x2="517.1" y2="265.04" stroke="#c9504c" stroke-width="1.0" />
<line x1="527.55" y1="266.73" x2="536.16" y2="267.77" stroke="#c9504c" stroke-width="1.0" />
<line x1="546.7" y1="268.84" x2="555.27" y2="269.56" stroke="#c9504c" stroke-width="1.0" />
<line x1="565.82" y1="270.52" x2="574.41" y2="271.38" stroke="#c9504c" stroke-width="1.0" />
<line x1="584.98" y1="271.9" x2="593.51" y2="271.9" stroke="#c9504c" stroke-width="1.0" />
<line x1="604.11" y1="271.9" x2="612.64" y2="271.9" stroke="#c9504c" stroke-width="1.0" />
<line x1="623.24" y1="271.9" x2="631.77" y2="271.9" stroke="#c9504c" stroke-width="1.0" />
<circle cx="484.03" cy="258.70" r="3.7" fill="#fff" stroke="#c9504c" stroke-width="0.95"/>
<circle cx="503.16" cy="262.20" r="3.7" fill="#fff" stroke="#c9504c" stroke-width="0.95"/>
<circle cx="522.29" cy="266.10" r="3.7" fill="#fff" stroke="#c9504c" stroke-width="0.95"/>
<circle cx="541.42" cy="268.40" r="3.7" fill="#fff" stroke="#c9504c" stroke-width="0.95"/>
<circle cx="560.55" cy="270.00" r="3.7" fill="#fff" stroke="#c9504c" stroke-width="0.95"/>
<circle cx="579.68" cy="271.90" r="3.7" fill="#fff" stroke="#c9504c" stroke-width="0.95"/>
<circle cx="598.81" cy="271.90" r="3.7" fill="#fff" stroke="#c9504c" stroke-width="0.95"/>
<circle cx="617.94" cy="271.90" r="3.7" fill="#fff" stroke="#c9504c" stroke-width="0.95"/>
<circle cx="637.07" cy="271.90" r="3.7" fill="#fff" stroke="#c9504c" stroke-width="0.95"/>
<line x1="489.42" y1="280.38" x2="497.77" y2="280.82" stroke="#a2b6c8" stroke-width="1.0" />
<line x1="508.55" y1="281.38" x2="516.9" y2="281.82" stroke="#a2b6c8" stroke-width="1.0" />
<line x1="527.66" y1="281.54" x2="536.05" y2="280.66" stroke="#a2b6c8" stroke-width="1.0" />
<line x1="546.74" y1="281.02" x2="555.23" y2="282.48" stroke="#a2b6c8" stroke-width="1.0" />
<line x1="565.94" y1="283.03" x2="574.29" y2="282.47" stroke="#a2b6c8" stroke-width="1.0" />
<line x1="585.07" y1="282.35" x2="593.42" y2="282.75" stroke="#a2b6c8" stroke-width="1.0" />
<line x1="604.21" y1="283.0" x2="612.54" y2="283.0" stroke="#a2b6c8" stroke-width="1.0" />
<line x1="623.34" y1="283.0" x2="631.67" y2="283.0" stroke="#a2b6c8" stroke-width="1.0" />
<polygon points="484.03,276.20 488.12,279.17 486.56,283.98 481.50,283.98 479.94,279.17" fill="#e3e9ef" stroke="#a2b6c8" stroke-width="1.0" stroke-linejoin="round"/>
<polygon points="503.16,277.20 507.25,280.17 505.69,284.98 500.63,284.98 499.07,280.17" fill="#e3e9ef" stroke="#a2b6c8" stroke-width="1.0" stroke-linejoin="round"/>
<polygon points="522.29,278.20 526.38,281.17 524.82,285.98 519.76,285.98 518.20,281.17" fill="#e3e9ef" stroke="#a2b6c8" stroke-width="1.0" stroke-linejoin="round"/>
<polygon points="541.42,276.20 545.51,279.17 543.95,283.98 538.89,283.98 537.33,279.17" fill="#e3e9ef" stroke="#a2b6c8" stroke-width="1.0" stroke-linejoin="round"/>
<polygon points="560.55,279.50 564.64,282.47 563.08,287.28 558.02,287.28 556.46,282.47" fill="#e3e9ef" stroke="#a2b6c8" stroke-width="1.0" stroke-linejoin="round"/>
<polygon points="579.68,278.20 583.77,281.17 582.21,285.98 577.15,285.98 575.59,281.17" fill="#e3e9ef" stroke="#a2b6c8" stroke-width="1.0" stroke-linejoin="round"/>
<polygon points="598.81,279.10 602.90,282.07 601.34,286.88 596.28,286.88 594.72,282.07" fill="#e3e9ef" stroke="#a2b6c8" stroke-width="1.0" stroke-linejoin="round"/>
<polygon points="617.94,279.10 622.03,282.07 620.47,286.88 615.41,286.88 613.85,282.07" fill="#e3e9ef" stroke="#a2b6c8" stroke-width="1.0" stroke-linejoin="round"/>
<polygon points="637.07,279.10 641.16,282.07 639.60,286.88 634.54,286.88 632.98,282.07" fill="#e3e9ef" stroke="#a2b6c8" stroke-width="1.0" stroke-linejoin="round"/>
<line x1="488.98" y1="303.2" x2="498.21" y2="301.9" stroke="#3d5a8c" stroke-width="1.0" />
<line x1="508.09" y1="300.38" x2="517.36" y2="298.82" stroke="#3d5a8c" stroke-width="1.0" />
<line x1="527.28" y1="297.66" x2="536.43" y2="297.04" stroke="#3d5a8c" stroke-width="1.0" />
<line x1="546.42" y1="296.49" x2="555.55" y2="296.11" stroke="#3d5a8c" stroke-width="1.0" />
<line x1="565.53" y1="295.46" x2="574.7" y2="294.64" stroke="#3d5a8c" stroke-width="1.0" />
<line x1="584.68" y1="294.33" x2="593.81" y2="294.57" stroke="#3d5a8c" stroke-width="1.0" />
<line x1="603.81" y1="294.7" x2="612.94" y2="294.7" stroke="#3d5a8c" stroke-width="1.0" />
<line x1="622.94" y1="294.75" x2="632.07" y2="294.85" stroke="#3d5a8c" stroke-width="1.0" />
<rect x="480.93" y="300.8" width="6.2" height="6.2" fill="#fff" stroke="#3d5a8c" stroke-width="1.0"/>
<rect x="500.06" y="298.1" width="6.2" height="6.2" fill="#fff" stroke="#3d5a8c" stroke-width="1.0"/>
<rect x="519.19" y="294.9" width="6.2" height="6.2" fill="#fff" stroke="#3d5a8c" stroke-width="1.0"/>
<rect x="538.32" y="293.6" width="6.2" height="6.2" fill="#fff" stroke="#3d5a8c" stroke-width="1.0"/>
<rect x="557.45" y="292.8" width="6.2" height="6.2" fill="#fff" stroke="#3d5a8c" stroke-width="1.0"/>
<rect x="576.58" y="291.1" width="6.2" height="6.2" fill="#fff" stroke="#3d5a8c" stroke-width="1.0"/>
<rect x="595.71" y="291.6" width="6.2" height="6.2" fill="#fff" stroke="#3d5a8c" stroke-width="1.0"/>
<rect x="614.84" y="291.6" width="6.2" height="6.2" fill="#fff" stroke="#3d5a8c" stroke-width="1.0"/>
<rect x="633.97" y="291.8" width="6.2" height="6.2" fill="#fff" stroke="#3d5a8c" stroke-width="1.0"/>
<line x1="580.5" y1="256" x2="580.5" y2="314" stroke="#111" stroke-width="0.8" stroke-dasharray="1.4,1.4"/>
<path d="M581.5,258 Q590,257 592.8,251.5" fill="none" stroke="#111" stroke-width="0.8" stroke-dasharray="1.4,1.4"/>
<polygon points="593.30,248.00 591.20,251.80 594.60,251.60" fill="#111" />
<rect x="464.9" y="201.4" width="191.30000000000007" height="134.99999999999997" fill="none" stroke="#1a1a1a" stroke-width="1.1"/>
<line x1="462.29999999999995" y1="336.4" x2="464.9" y2="336.4" stroke="#1a1a1a" stroke-width="1" />
<text transform="translate(460.70,339.35) scale(0.91,1)" x="0" y="0" font-size="9.4" text-anchor="end" fill="#111" font-weight="normal"  >0</text>
<line x1="462.29999999999995" y1="291.4" x2="464.9" y2="291.4" stroke="#1a1a1a" stroke-width="1" />
<text transform="translate(460.70,294.35) scale(0.91,1)" x="0" y="0" font-size="9.4" text-anchor="end" fill="#111" font-weight="normal"  >20</text>
<line x1="462.29999999999995" y1="246.39999999999998" x2="464.9" y2="246.39999999999998" stroke="#1a1a1a" stroke-width="1" />
<text transform="translate(460.70,249.35) scale(0.91,1)" x="0" y="0" font-size="9.4" text-anchor="end" fill="#111" font-weight="normal"  >40</text>
<line x1="462.29999999999995" y1="201.39999999999998" x2="464.9" y2="201.39999999999998" stroke="#1a1a1a" stroke-width="1" />
<text transform="translate(460.70,204.35) scale(0.91,1)" x="0" y="0" font-size="9.4" text-anchor="end" fill="#111" font-weight="normal"  >60</text>
<line x1="463.4" y1="313.9" x2="464.9" y2="313.9" stroke="#1a1a1a" stroke-width="1" />
<line x1="463.4" y1="268.9" x2="464.9" y2="268.9" stroke="#1a1a1a" stroke-width="1" />
<line x1="463.4" y1="223.89999999999998" x2="464.9" y2="223.89999999999998" stroke="#1a1a1a" stroke-width="1" />
<line x1="656.2" y1="336.4" x2="658.8000000000001" y2="336.4" stroke="#1a1a1a" stroke-width="1" />
<text transform="translate(660.20,339.35) scale(0.91,1)" x="0" y="0" font-size="9.4" text-anchor="start" fill="#111" font-weight="normal"  >0</text>
<line x1="656.2" y1="298.08599999999996" x2="658.8000000000001" y2="298.08599999999996" stroke="#1a1a1a" stroke-width="1" />
<text transform="translate(660.20,301.04) scale(0.91,1)" x="0" y="0" font-size="9.4" text-anchor="start" fill="#111" font-weight="normal"  >20</text>
<line x1="656.2" y1="259.772" x2="658.8000000000001" y2="259.772" stroke="#1a1a1a" stroke-width="1" />
<text transform="translate(660.20,262.72) scale(0.91,1)" x="0" y="0" font-size="9.4" text-anchor="start" fill="#111" font-weight="normal"  >40</text>
<line x1="656.2" y1="221.45799999999997" x2="658.8000000000001" y2="221.45799999999997" stroke="#1a1a1a" stroke-width="1" />
<text transform="translate(660.20,224.41) scale(0.91,1)" x="0" y="0" font-size="9.4" text-anchor="start" fill="#111" font-weight="normal"  >60</text>
<line x1="656.2" y1="317.243" x2="657.7" y2="317.243" stroke="#1a1a1a" stroke-width="1" />
<line x1="656.2" y1="278.929" x2="657.7" y2="278.929" stroke="#1a1a1a" stroke-width="1" />
<line x1="656.2" y1="240.61499999999998" x2="657.7" y2="240.61499999999998" stroke="#1a1a1a" stroke-width="1" />
<line x1="656.2" y1="202.301" x2="657.7" y2="202.301" stroke="#1a1a1a" stroke-width="1" />
<line x1="464.9" y1="336.4" x2="464.9" y2="339.0" stroke="#1a1a1a" stroke-width="1" />
<text transform="translate(464.90,348.60) scale(0.91,1)" x="0" y="0" font-size="9.7" text-anchor="middle" fill="#111" font-weight="normal"  >0</text>
<line x1="503.15999999999997" y1="336.4" x2="503.15999999999997" y2="339.0" stroke="#1a1a1a" stroke-width="1" />
<text transform="translate(503.16,348.60) scale(0.91,1)" x="0" y="0" font-size="9.7" text-anchor="middle" fill="#111" font-weight="normal"  >2</text>
<line x1="541.42" y1="336.4" x2="541.42" y2="339.0" stroke="#1a1a1a" stroke-width="1" />
<text transform="translate(541.42,348.60) scale(0.91,1)" x="0" y="0" font-size="9.7" text-anchor="middle" fill="#111" font-weight="normal"  >4</text>
<line x1="579.68" y1="336.4" x2="579.68" y2="339.0" stroke="#1a1a1a" stroke-width="1" />
<text transform="translate(579.68,348.60) scale(0.91,1)" x="0" y="0" font-size="9.7" text-anchor="middle" fill="#111" font-weight="normal"  >6</text>
<line x1="617.9399999999999" y1="336.4" x2="617.9399999999999" y2="339.0" stroke="#1a1a1a" stroke-width="1" />
<text transform="translate(617.94,348.60) scale(0.91,1)" x="0" y="0" font-size="9.7" text-anchor="middle" fill="#111" font-weight="normal"  >8</text>
<line x1="656.1999999999999" y1="336.4" x2="656.1999999999999" y2="339.0" stroke="#1a1a1a" stroke-width="1" />
<line x1="484.03" y1="336.4" x2="484.03" y2="337.9" stroke="#1a1a1a" stroke-width="1" />
<line x1="522.29" y1="336.4" x2="522.29" y2="337.9" stroke="#1a1a1a" stroke-width="1" />
<line x1="560.55" y1="336.4" x2="560.55" y2="337.9" stroke="#1a1a1a" stroke-width="1" />
<line x1="598.81" y1="336.4" x2="598.81" y2="337.9" stroke="#1a1a1a" stroke-width="1" />
<line x1="637.0699999999999" y1="336.4" x2="637.0699999999999" y2="337.9" stroke="#1a1a1a" stroke-width="1" />
<text x="552" y="357.8" font-size="11" text-anchor="start" fill="#111" font-weight="normal"  ><tspan font-style="italic">t</tspan> / h</text>
<text x="471.3" y="214.2" font-size="8.3" text-anchor="start" fill="#111" font-weight="normal"  >K-Fe<tspan font-size="6" dy="2">2</tspan><tspan dy="-2">C@C-I</tspan><tspan font-size="6" dy="2">2</tspan><tspan dy="-2">: unstable and forming Fe</tspan><tspan font-size="6" dy="2">5</tspan><tspan dy="-2">C</tspan><tspan font-size="6" dy="2">2</tspan><tspan dy="-2"> in 6 h</tspan></text>
<text x="433.6" y="210" font-size="13.6" text-anchor="start" fill="#111" font-weight="normal"  >g</text>
<text transform="translate(448.4,268.9) rotate(-90)" font-size="11.5" text-anchor="middle" fill="#111">CO-free Sel. / %</text>
<text transform="translate(676.4,269.8) rotate(90)" font-size="11.5" text-anchor="middle" fill="#111">CO<tspan font-size="8" dy="2">2</tspan><tspan dy="-2"> Con. / %</tspan></text>
</svg></body></html>
